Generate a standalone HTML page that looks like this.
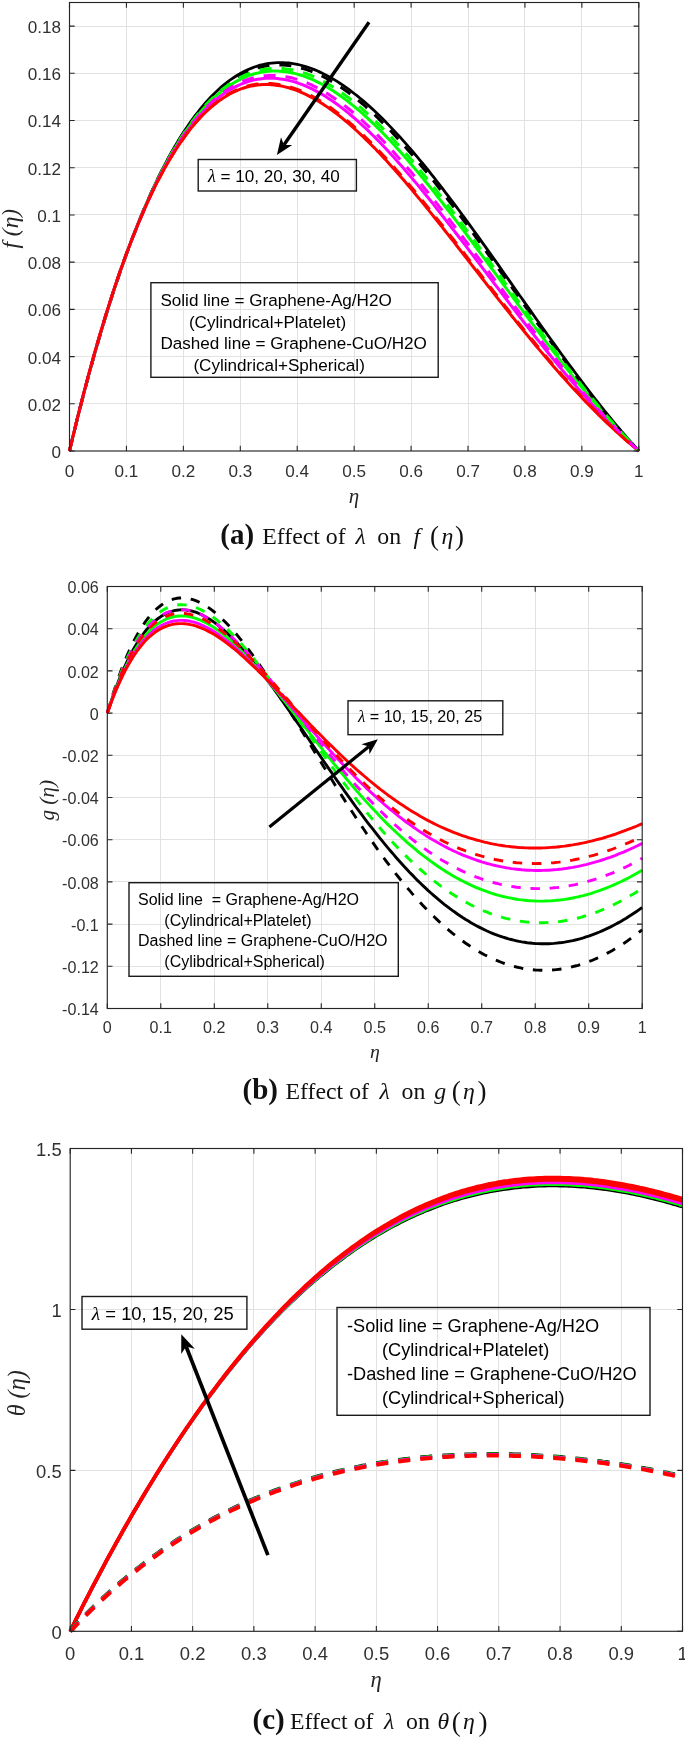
<!DOCTYPE html>
<html><head><meta charset="utf-8"><title>Effect of lambda</title>
<style>
html,body{margin:0;padding:0;background:#fff;}
body{width:685px;height:1739px;overflow:hidden;font-family:"Liberation Sans",sans-serif;}
svg{display:block;will-change:transform;}
</style></head><body>
<svg width="685" height="1739" viewBox="0 0 685 1739">
<rect width="685" height="1739" fill="#fff"/>
<path d="M126.43 2.50V451.00M183.36 2.50V451.00M240.29 2.50V451.00M297.22 2.50V451.00M354.15 2.50V451.00M411.08 2.50V451.00M468.01 2.50V451.00M524.94 2.50V451.00M581.87 2.50V451.00M69.50 403.79H638.80M69.50 356.58H638.80M69.50 309.37H638.80M69.50 262.16H638.80M69.50 214.95H638.80M69.50 167.74H638.80M69.50 120.53H638.80M69.50 73.32H638.80M69.50 26.11H638.80" stroke="#e2e2e2" stroke-width="1" fill="none" shape-rendering="crispEdges"/>
<path d="M69.5 451.0 L72.3 439.2 L75.2 427.5 L78.0 416.1 L80.9 404.9 L83.7 394.0 L86.6 383.2 L89.4 372.6 L92.3 362.3 L95.1 352.2 L98.0 342.3 L100.8 332.5 L103.7 323.0 L106.5 313.7 L109.4 304.6 L112.2 295.7 L115.0 287.0 L117.9 278.5 L120.7 270.1 L123.6 262.0 L126.4 254.1 L129.3 246.3 L132.1 238.7 L135.0 231.4 L137.8 224.2 L140.7 217.1 L143.5 210.3 L146.4 203.6 L149.2 197.2 L152.0 190.9 L154.9 184.7 L157.7 178.8 L160.6 173.0 L163.4 167.3 L166.3 161.9 L169.1 156.6 L172.0 151.5 L174.8 146.5 L177.7 141.7 L180.5 137.1 L183.4 132.6 L186.2 128.3 L189.1 124.1 L191.9 120.1 L194.7 116.2 L197.6 112.5 L200.4 108.9 L203.3 105.5 L206.1 102.2 L209.0 99.0 L211.8 96.0 L214.7 93.2 L217.5 90.5 L220.4 87.9 L223.2 85.4 L226.1 83.1 L228.9 80.9 L231.8 78.9 L234.6 77.0 L237.4 75.2 L240.3 73.5 L243.1 72.0 L246.0 70.5 L248.8 69.2 L251.7 68.1 L254.5 67.0 L257.4 66.1 L260.2 65.2 L263.1 64.5 L265.9 63.9 L268.8 63.4 L271.6 63.1 L274.4 62.8 L277.3 62.6 L280.1 62.6 L283.0 62.6 L285.8 62.8 L288.7 63.0 L291.5 63.4 L294.4 63.8 L297.2 64.4 L300.1 65.0 L302.9 65.8 L305.8 66.6 L308.6 67.5 L311.5 68.5 L314.3 69.6 L317.1 70.8 L320.0 72.1 L322.8 73.4 L325.7 74.9 L328.5 76.4 L331.4 78.0 L334.2 79.6 L337.1 81.4 L339.9 83.2 L342.8 85.1 L345.6 87.1 L348.5 89.1 L351.3 91.3 L354.1 93.5 L357.0 95.7 L359.8 98.0 L362.7 100.4 L365.5 102.9 L368.4 105.4 L371.2 107.9 L374.1 110.6 L376.9 113.3 L379.8 116.0 L382.6 118.8 L385.5 121.7 L388.3 124.6 L391.2 127.6 L394.0 130.6 L396.8 133.6 L399.7 136.7 L402.5 139.9 L405.4 143.1 L408.2 146.4 L411.1 149.6 L413.9 153.0 L416.8 156.4 L419.6 159.8 L422.5 163.2 L425.3 166.7 L428.2 170.2 L431.0 173.8 L433.9 177.4 L436.7 181.0 L439.5 184.7 L442.4 188.3 L445.2 192.1 L448.1 195.8 L450.9 199.6 L453.8 203.4 L456.6 207.2 L459.5 211.0 L462.3 214.9 L465.2 218.7 L468.0 222.6 L470.9 226.6 L473.7 230.5 L476.5 234.4 L479.4 238.4 L482.2 242.4 L485.1 246.4 L487.9 250.4 L490.8 254.4 L493.6 258.4 L496.5 262.4 L499.3 266.4 L502.2 270.5 L505.0 274.5 L507.9 278.6 L510.7 282.6 L513.6 286.7 L516.4 290.7 L519.2 294.8 L522.1 298.8 L524.9 302.9 L527.8 306.9 L530.6 310.9 L533.5 315.0 L536.3 319.0 L539.2 323.0 L542.0 327.0 L544.9 331.0 L547.7 335.0 L550.6 339.0 L553.4 342.9 L556.3 346.9 L559.1 350.8 L561.9 354.7 L564.8 358.6 L567.6 362.5 L570.5 366.4 L573.3 370.2 L576.2 374.0 L579.0 377.8 L581.9 381.6 L584.7 385.4 L587.6 389.1 L590.4 392.8 L593.3 396.5 L596.1 400.1 L598.9 403.7 L601.8 407.3 L604.6 410.9 L607.5 414.4 L610.3 417.9 L613.2 421.4 L616.0 424.8 L618.9 428.2 L621.7 431.6 L624.6 434.9 L627.4 438.2 L630.3 441.5 L633.1 444.7 L636.0 447.9 L638.8 451.0" stroke="#000" stroke-width="2.80" fill="none" stroke-linejoin="round"/>
<path d="M69.5 451.0 L72.3 439.1 L75.2 427.4 L78.0 415.9 L80.9 404.7 L83.7 393.7 L86.6 382.9 L89.4 372.3 L92.3 361.9 L95.1 351.8 L98.0 341.9 L100.8 332.1 L103.7 322.6 L106.5 313.3 L109.4 304.3 L112.2 295.4 L115.0 286.7 L117.9 278.2 L120.7 269.9 L123.6 261.9 L126.4 254.0 L129.3 246.3 L132.1 238.8 L135.0 231.5 L137.8 224.4 L140.7 217.4 L143.5 210.7 L146.4 204.1 L149.2 197.7 L152.0 191.5 L154.9 185.5 L157.7 179.7 L160.6 174.0 L163.4 168.5 L166.3 163.2 L169.1 158.0 L172.0 153.1 L174.8 148.2 L177.7 143.6 L180.5 139.1 L183.4 134.8 L186.2 130.6 L189.1 126.6 L191.9 122.7 L194.7 119.0 L197.6 115.5 L200.4 112.1 L203.3 108.8 L206.1 105.7 L209.0 102.7 L211.8 99.9 L214.7 97.2 L217.5 94.7 L220.4 92.3 L223.2 90.1 L226.1 87.9 L228.9 86.0 L231.8 84.1 L234.6 82.4 L237.4 80.8 L240.3 79.3 L243.1 78.0 L246.0 76.8 L248.8 75.7 L251.7 74.7 L254.5 73.8 L257.4 73.1 L260.2 72.5 L263.1 71.9 L265.9 71.5 L268.8 71.3 L271.6 71.1 L274.4 71.0 L277.3 71.0 L280.1 71.2 L283.0 71.4 L285.8 71.8 L288.7 72.2 L291.5 72.8 L294.4 73.4 L297.2 74.1 L300.1 75.0 L302.9 75.9 L305.8 76.9 L308.6 78.0 L311.5 79.2 L314.3 80.4 L317.1 81.8 L320.0 83.2 L322.8 84.7 L325.7 86.3 L328.5 88.0 L331.4 89.8 L334.2 91.6 L337.1 93.5 L339.9 95.5 L342.8 97.5 L345.6 99.6 L348.5 101.8 L351.3 104.1 L354.1 106.4 L357.0 108.8 L359.8 111.2 L362.7 113.7 L365.5 116.3 L368.4 118.9 L371.2 121.6 L374.1 124.3 L376.9 127.1 L379.8 129.9 L382.6 132.8 L385.5 135.7 L388.3 138.7 L391.2 141.7 L394.0 144.8 L396.8 147.9 L399.7 151.1 L402.5 154.3 L405.4 157.5 L408.2 160.8 L411.1 164.2 L413.9 167.5 L416.8 170.9 L419.6 174.3 L422.5 177.8 L425.3 181.3 L428.2 184.8 L431.0 188.3 L433.9 191.9 L436.7 195.5 L439.5 199.1 L442.4 202.8 L445.2 206.5 L448.1 210.2 L450.9 213.9 L453.8 217.6 L456.6 221.4 L459.5 225.1 L462.3 228.9 L465.2 232.7 L468.0 236.5 L470.9 240.3 L473.7 244.2 L476.5 248.0 L479.4 251.9 L482.2 255.7 L485.1 259.6 L487.9 263.5 L490.8 267.3 L493.6 271.2 L496.5 275.1 L499.3 279.0 L502.2 282.9 L505.0 286.7 L507.9 290.6 L510.7 294.5 L513.6 298.4 L516.4 302.2 L519.2 306.1 L522.1 309.9 L524.9 313.8 L527.8 317.6 L530.6 321.4 L533.5 325.2 L536.3 329.0 L539.2 332.8 L542.0 336.6 L544.9 340.4 L547.7 344.1 L550.6 347.8 L553.4 351.6 L556.3 355.3 L559.1 358.9 L561.9 362.6 L564.8 366.2 L567.6 369.8 L570.5 373.4 L573.3 377.0 L576.2 380.5 L579.0 384.1 L581.9 387.5 L584.7 391.0 L587.6 394.5 L590.4 397.9 L593.3 401.3 L596.1 404.6 L598.9 407.9 L601.8 411.2 L604.6 414.5 L607.5 417.7 L610.3 420.9 L613.2 424.1 L616.0 427.2 L618.9 430.3 L621.7 433.4 L624.6 436.4 L627.4 439.4 L630.3 442.4 L633.1 445.3 L636.0 448.2 L638.8 451.0" stroke="#00ff00" stroke-width="3.00" fill="none" stroke-linejoin="round"/>
<path d="M69.5 451.0 L72.3 439.0 L75.2 427.3 L78.0 415.7 L80.9 404.5 L83.7 393.4 L86.6 382.6 L89.4 372.0 L92.3 361.6 L95.1 351.4 L98.0 341.5 L100.8 331.8 L103.7 322.3 L106.5 313.0 L109.4 303.9 L112.2 295.1 L115.0 286.4 L117.9 278.0 L120.7 269.7 L123.6 261.7 L126.4 253.9 L129.3 246.2 L132.1 238.8 L135.0 231.6 L137.8 224.5 L140.7 217.7 L143.5 211.0 L146.4 204.5 L149.2 198.3 L152.0 192.2 L154.9 186.2 L157.7 180.5 L160.6 174.9 L163.4 169.6 L166.3 164.4 L169.1 159.3 L172.0 154.5 L174.8 149.8 L177.7 145.2 L180.5 140.9 L183.4 136.7 L186.2 132.7 L189.1 128.8 L191.9 125.1 L194.7 121.5 L197.6 118.1 L200.4 114.9 L203.3 111.8 L206.1 108.8 L209.0 106.0 L211.8 103.4 L214.7 100.9 L217.5 98.5 L220.4 96.3 L223.2 94.2 L226.1 92.3 L228.9 90.4 L231.8 88.8 L234.6 87.2 L237.4 85.8 L240.3 84.5 L243.1 83.3 L246.0 82.3 L248.8 81.4 L251.7 80.6 L254.5 79.9 L257.4 79.3 L260.2 78.9 L263.1 78.6 L265.9 78.3 L268.8 78.2 L271.6 78.2 L274.4 78.3 L277.3 78.5 L280.1 78.9 L283.0 79.3 L285.8 79.8 L288.7 80.4 L291.5 81.1 L294.4 81.9 L297.2 82.8 L300.1 83.8 L302.9 84.9 L305.8 86.1 L308.6 87.3 L311.5 88.7 L314.3 90.1 L317.1 91.6 L320.0 93.2 L322.8 94.8 L325.7 96.6 L328.5 98.4 L331.4 100.3 L334.2 102.3 L337.1 104.3 L339.9 106.4 L342.8 108.6 L345.6 110.8 L348.5 113.1 L351.3 115.5 L354.1 117.9 L357.0 120.4 L359.8 123.0 L362.7 125.6 L365.5 128.2 L368.4 130.9 L371.2 133.7 L374.1 136.5 L376.9 139.4 L379.8 142.3 L382.6 145.2 L385.5 148.2 L388.3 151.3 L391.2 154.4 L394.0 157.5 L396.8 160.7 L399.7 163.9 L402.5 167.1 L405.4 170.4 L408.2 173.7 L411.1 177.1 L413.9 180.5 L416.8 183.9 L419.6 187.3 L422.5 190.8 L425.3 194.3 L428.2 197.8 L431.0 201.3 L433.9 204.9 L436.7 208.5 L439.5 212.1 L442.4 215.7 L445.2 219.3 L448.1 223.0 L450.9 226.7 L453.8 230.3 L456.6 234.0 L459.5 237.7 L462.3 241.4 L465.2 245.2 L468.0 248.9 L470.9 252.6 L473.7 256.4 L476.5 260.1 L479.4 263.9 L482.2 267.6 L485.1 271.4 L487.9 275.1 L490.8 278.9 L493.6 282.7 L496.5 286.4 L499.3 290.1 L502.2 293.9 L505.0 297.6 L507.9 301.3 L510.7 305.1 L513.6 308.8 L516.4 312.5 L519.2 316.2 L522.1 319.8 L524.9 323.5 L527.8 327.1 L530.6 330.8 L533.5 334.4 L536.3 338.0 L539.2 341.6 L542.0 345.2 L544.9 348.7 L547.7 352.2 L550.6 355.8 L553.4 359.3 L556.3 362.7 L559.1 366.2 L561.9 369.6 L564.8 373.0 L567.6 376.4 L570.5 379.7 L573.3 383.0 L576.2 386.3 L579.0 389.6 L581.9 392.8 L584.7 396.1 L587.6 399.2 L590.4 402.4 L593.3 405.5 L596.1 408.6 L598.9 411.7 L601.8 414.7 L604.6 417.7 L607.5 420.7 L610.3 423.6 L613.2 426.5 L616.0 429.4 L618.9 432.2 L621.7 435.0 L624.6 437.7 L627.4 440.5 L630.3 443.2 L633.1 445.8 L636.0 448.4 L638.8 451.0" stroke="#ff00ff" stroke-width="3.00" fill="none" stroke-linejoin="round"/>
<path d="M69.5 451.0 L72.3 439.0 L75.2 427.1 L78.0 415.6 L80.9 404.3 L83.7 393.2 L86.6 382.3 L89.4 371.7 L92.3 361.3 L95.1 351.1 L98.0 341.2 L100.8 331.5 L103.7 322.0 L106.5 312.7 L109.4 303.6 L112.2 294.8 L115.0 286.2 L117.9 277.8 L120.7 269.6 L123.6 261.6 L126.4 253.8 L129.3 246.2 L132.1 238.8 L135.0 231.7 L137.8 224.7 L140.7 217.9 L143.5 211.3 L146.4 204.9 L149.2 198.7 L152.0 192.7 L154.9 186.9 L157.7 181.2 L160.6 175.8 L163.4 170.5 L166.3 165.4 L169.1 160.5 L172.0 155.7 L174.8 151.2 L177.7 146.8 L180.5 142.5 L183.4 138.5 L186.2 134.6 L189.1 130.8 L191.9 127.2 L194.7 123.8 L197.6 120.6 L200.4 117.5 L203.3 114.5 L206.1 111.7 L209.0 109.1 L211.8 106.5 L214.7 104.2 L217.5 102.0 L220.4 99.9 L223.2 98.0 L226.1 96.2 L228.9 94.5 L231.8 93.0 L234.6 91.6 L237.4 90.3 L240.3 89.2 L243.1 88.2 L246.0 87.3 L248.8 86.6 L251.7 85.9 L254.5 85.4 L257.4 85.0 L260.2 84.7 L263.1 84.6 L265.9 84.5 L268.8 84.6 L271.6 84.7 L274.4 85.0 L277.3 85.4 L280.1 85.8 L283.0 86.4 L285.8 87.1 L288.7 87.8 L291.5 88.7 L294.4 89.7 L297.2 90.7 L300.1 91.9 L302.9 93.1 L305.8 94.4 L308.6 95.8 L311.5 97.3 L314.3 98.9 L317.1 100.5 L320.0 102.2 L322.8 104.0 L325.7 105.9 L328.5 107.9 L331.4 109.9 L334.2 112.0 L337.1 114.1 L339.9 116.3 L342.8 118.6 L345.6 121.0 L348.5 123.4 L351.3 125.9 L354.1 128.4 L357.0 131.0 L359.8 133.6 L362.7 136.3 L365.5 139.1 L368.4 141.9 L371.2 144.7 L374.1 147.6 L376.9 150.6 L379.8 153.5 L382.6 156.6 L385.5 159.6 L388.3 162.7 L391.2 165.9 L394.0 169.1 L396.8 172.3 L399.7 175.5 L402.5 178.8 L405.4 182.1 L408.2 185.5 L411.1 188.8 L413.9 192.2 L416.8 195.7 L419.6 199.1 L422.5 202.6 L425.3 206.1 L428.2 209.6 L431.0 213.1 L433.9 216.7 L436.7 220.2 L439.5 223.8 L442.4 227.4 L445.2 231.0 L448.1 234.6 L450.9 238.3 L453.8 241.9 L456.6 245.5 L459.5 249.2 L462.3 252.8 L465.2 256.5 L468.0 260.2 L470.9 263.8 L473.7 267.5 L476.5 271.1 L479.4 274.8 L482.2 278.5 L485.1 282.1 L487.9 285.8 L490.8 289.4 L493.6 293.1 L496.5 296.7 L499.3 300.3 L502.2 303.9 L505.0 307.5 L507.9 311.1 L510.7 314.7 L513.6 318.2 L516.4 321.8 L519.2 325.3 L522.1 328.8 L524.9 332.3 L527.8 335.8 L530.6 339.3 L533.5 342.7 L536.3 346.2 L539.2 349.6 L542.0 352.9 L544.9 356.3 L547.7 359.6 L550.6 363.0 L553.4 366.2 L556.3 369.5 L559.1 372.7 L561.9 376.0 L564.8 379.1 L567.6 382.3 L570.5 385.4 L573.3 388.5 L576.2 391.6 L579.0 394.6 L581.9 397.7 L584.7 400.6 L587.6 403.6 L590.4 406.5 L593.3 409.4 L596.1 412.2 L598.9 415.1 L601.8 417.9 L604.6 420.6 L607.5 423.3 L610.3 426.0 L613.2 428.7 L616.0 431.3 L618.9 433.9 L621.7 436.4 L624.6 439.0 L627.4 441.4 L630.3 443.9 L633.1 446.3 L636.0 448.7 L638.8 451.0" stroke="#ff0000" stroke-width="3.00" fill="none" stroke-linejoin="round"/>
<path d="M69.5 451.0 L72.3 439.1 L75.2 427.5 L78.0 416.1 L80.9 404.9 L83.7 393.9 L86.6 383.1 L89.4 372.5 L92.3 362.2 L95.1 352.1 L98.0 342.2 L100.8 332.4 L103.7 322.9 L106.5 313.6 L109.4 304.5 L112.2 295.6 L115.0 286.9 L117.9 278.4 L120.7 270.1 L123.6 262.0 L126.4 254.0 L129.3 246.3 L132.1 238.7 L135.0 231.4 L137.8 224.2 L140.7 217.2 L143.5 210.4 L146.4 203.8 L149.2 197.3 L152.0 191.0 L154.9 184.9 L157.7 179.0 L160.6 173.2 L163.4 167.7 L166.3 162.2 L169.1 157.0 L172.0 151.9 L174.8 147.0 L177.7 142.2 L180.5 137.6 L183.4 133.2 L186.2 128.9 L189.1 124.7 L191.9 120.8 L194.7 116.9 L197.6 113.3 L200.4 109.7 L203.3 106.4 L206.1 103.1 L209.0 100.0 L211.8 97.1 L214.7 94.3 L217.5 91.6 L220.4 89.1 L223.2 86.7 L226.1 84.4 L228.9 82.3 L231.8 80.3 L234.6 78.4 L237.4 76.7 L240.3 75.1 L243.1 73.6 L246.0 72.2 L248.8 71.0 L251.7 69.9 L254.5 68.8 L257.4 68.0 L260.2 67.2 L263.1 66.5 L265.9 66.0 L268.8 65.6 L271.6 65.2 L274.4 65.0 L277.3 64.9 L280.1 64.9 L283.0 65.0 L285.8 65.2 L288.7 65.5 L291.5 65.9 L294.4 66.4 L297.2 67.0 L300.1 67.7 L302.9 68.5 L305.8 69.4 L308.6 70.3 L311.5 71.4 L314.3 72.5 L317.1 73.8 L320.0 75.1 L322.8 76.5 L325.7 78.0 L328.5 79.5 L331.4 81.2 L334.2 82.9 L337.1 84.7 L339.9 86.5 L342.8 88.5 L345.6 90.5 L348.5 92.6 L351.3 94.7 L354.1 96.9 L357.0 99.2 L359.8 101.6 L362.7 104.0 L365.5 106.5 L368.4 109.0 L371.2 111.6 L374.1 114.3 L376.9 117.0 L379.8 119.8 L382.6 122.6 L385.5 125.5 L388.3 128.4 L391.2 131.4 L394.0 134.4 L396.8 137.5 L399.7 140.6 L402.5 143.8 L405.4 147.0 L408.2 150.3 L411.1 153.6 L413.9 156.9 L416.8 160.3 L419.6 163.7 L422.5 167.2 L425.3 170.6 L428.2 174.2 L431.0 177.7 L433.9 181.3 L436.7 184.9 L439.5 188.6 L442.4 192.3 L445.2 196.0 L448.1 199.7 L450.9 203.4 L453.8 207.2 L456.6 211.0 L459.5 214.8 L462.3 218.7 L465.2 222.5 L468.0 226.4 L470.9 230.3 L473.7 234.2 L476.5 238.1 L479.4 242.0 L482.2 246.0 L485.1 249.9 L487.9 253.9 L490.8 257.9 L493.6 261.9 L496.5 265.8 L499.3 269.8 L502.2 273.8 L505.0 277.8 L507.9 281.8 L510.7 285.8 L513.6 289.8 L516.4 293.8 L519.2 297.8 L522.1 301.8 L524.9 305.8 L527.8 309.8 L530.6 313.8 L533.5 317.8 L536.3 321.7 L539.2 325.7 L542.0 329.6 L544.9 333.5 L547.7 337.5 L550.6 341.4 L553.4 345.3 L556.3 349.1 L559.1 353.0 L561.9 356.9 L564.8 360.7 L567.6 364.5 L570.5 368.3 L573.3 372.0 L576.2 375.8 L579.0 379.5 L581.9 383.2 L584.7 386.9 L587.6 390.5 L590.4 394.2 L593.3 397.8 L596.1 401.3 L598.9 404.9 L601.8 408.4 L604.6 411.9 L607.5 415.3 L610.3 418.7 L613.2 422.1 L616.0 425.5 L618.9 428.8 L621.7 432.1 L624.6 435.3 L627.4 438.5 L630.3 441.7 L633.1 444.8 L636.0 447.9 L638.8 451.0" stroke="#000" stroke-width="3.00" fill="none" stroke-linejoin="round" stroke-dasharray="12 10"/>
<path d="M69.5 451.0 L72.3 439.1 L75.2 427.4 L78.0 416.0 L80.9 404.8 L83.7 393.8 L86.6 383.0 L89.4 372.4 L92.3 362.1 L95.1 351.9 L98.0 342.0 L100.8 332.3 L103.7 322.8 L106.5 313.5 L109.4 304.4 L112.2 295.5 L115.0 286.8 L117.9 278.3 L120.7 270.0 L123.6 261.9 L126.4 254.0 L129.3 246.3 L132.1 238.8 L135.0 231.4 L137.8 224.3 L140.7 217.3 L143.5 210.6 L146.4 204.0 L149.2 197.6 L152.0 191.3 L154.9 185.3 L157.7 179.4 L160.6 173.7 L163.4 168.1 L166.3 162.8 L169.1 157.6 L172.0 152.5 L174.8 147.7 L177.7 143.0 L180.5 138.4 L183.4 134.1 L186.2 129.8 L189.1 125.8 L191.9 121.8 L194.7 118.1 L197.6 114.5 L200.4 111.0 L203.3 107.7 L206.1 104.6 L209.0 101.5 L211.8 98.7 L214.7 95.9 L217.5 93.3 L220.4 90.9 L223.2 88.6 L226.1 86.4 L228.9 84.3 L231.8 82.4 L234.6 80.6 L237.4 79.0 L240.3 77.4 L243.1 76.0 L246.0 74.7 L248.8 73.6 L251.7 72.5 L254.5 71.6 L257.4 70.8 L260.2 70.1 L263.1 69.5 L265.9 69.1 L268.8 68.7 L271.6 68.5 L274.4 68.3 L277.3 68.3 L280.1 68.4 L283.0 68.6 L285.8 68.9 L288.7 69.2 L291.5 69.7 L294.4 70.3 L297.2 71.0 L300.1 71.7 L302.9 72.6 L305.8 73.5 L308.6 74.6 L311.5 75.7 L314.3 76.9 L317.1 78.2 L320.0 79.6 L322.8 81.1 L325.7 82.6 L328.5 84.2 L331.4 85.9 L334.2 87.7 L337.1 89.6 L339.9 91.5 L342.8 93.5 L345.6 95.6 L348.5 97.7 L351.3 99.9 L354.1 102.2 L357.0 104.5 L359.8 106.9 L362.7 109.4 L365.5 111.9 L368.4 114.5 L371.2 117.1 L374.1 119.8 L376.9 122.6 L379.8 125.4 L382.6 128.3 L385.5 131.2 L388.3 134.1 L391.2 137.1 L394.0 140.2 L396.8 143.3 L399.7 146.4 L402.5 149.6 L405.4 152.9 L408.2 156.1 L411.1 159.4 L413.9 162.8 L416.8 166.2 L419.6 169.6 L422.5 173.1 L425.3 176.6 L428.2 180.1 L431.0 183.6 L433.9 187.2 L436.7 190.8 L439.5 194.4 L442.4 198.1 L445.2 201.8 L448.1 205.5 L450.9 209.2 L453.8 213.0 L456.6 216.8 L459.5 220.5 L462.3 224.4 L465.2 228.2 L468.0 232.0 L470.9 235.9 L473.7 239.7 L476.5 243.6 L479.4 247.5 L482.2 251.4 L485.1 255.3 L487.9 259.2 L490.8 263.1 L493.6 267.1 L496.5 271.0 L499.3 274.9 L502.2 278.8 L505.0 282.8 L507.9 286.7 L510.7 290.6 L513.6 294.6 L516.4 298.5 L519.2 302.4 L522.1 306.3 L524.9 310.2 L527.8 314.1 L530.6 318.0 L533.5 321.9 L536.3 325.8 L539.2 329.7 L542.0 333.5 L544.9 337.3 L547.7 341.2 L550.6 345.0 L553.4 348.8 L556.3 352.5 L559.1 356.3 L561.9 360.0 L564.8 363.8 L567.6 367.5 L570.5 371.1 L573.3 374.8 L576.2 378.4 L579.0 382.0 L581.9 385.6 L584.7 389.2 L587.6 392.7 L590.4 396.2 L593.3 399.7 L596.1 403.2 L598.9 406.6 L601.8 410.0 L604.6 413.3 L607.5 416.7 L610.3 420.0 L613.2 423.2 L616.0 426.5 L618.9 429.6 L621.7 432.8 L624.6 435.9 L627.4 439.0 L630.3 442.1 L633.1 445.1 L636.0 448.1 L638.8 451.0" stroke="#00ff00" stroke-width="3.00" fill="none" stroke-linejoin="round" stroke-dasharray="12 10"/>
<path d="M69.5 451.0 L72.3 439.0 L75.2 427.3 L78.0 415.8 L80.9 404.5 L83.7 393.5 L86.6 382.7 L89.4 372.1 L92.3 361.7 L95.1 351.6 L98.0 341.6 L100.8 331.9 L103.7 322.4 L106.5 313.1 L109.4 304.1 L112.2 295.2 L115.0 286.5 L117.9 278.1 L120.7 269.8 L123.6 261.8 L126.4 253.9 L129.3 246.3 L132.1 238.8 L135.0 231.5 L137.8 224.5 L140.7 217.6 L143.5 210.9 L146.4 204.4 L149.2 198.1 L152.0 191.9 L154.9 186.0 L157.7 180.2 L160.6 174.6 L163.4 169.1 L166.3 163.9 L169.1 158.8 L172.0 153.9 L174.8 149.2 L177.7 144.6 L180.5 140.2 L183.4 135.9 L186.2 131.8 L189.1 127.9 L191.9 124.1 L194.7 120.5 L197.6 117.1 L200.4 113.8 L203.3 110.6 L206.1 107.6 L209.0 104.7 L211.8 102.0 L214.7 99.5 L217.5 97.0 L220.4 94.7 L223.2 92.6 L226.1 90.6 L228.9 88.7 L231.8 86.9 L234.6 85.3 L237.4 83.8 L240.3 82.5 L243.1 81.2 L246.0 80.1 L248.8 79.1 L251.7 78.3 L254.5 77.5 L257.4 76.9 L260.2 76.4 L263.1 75.9 L265.9 75.7 L268.8 75.5 L271.6 75.4 L274.4 75.4 L277.3 75.6 L280.1 75.8 L283.0 76.2 L285.8 76.6 L288.7 77.2 L291.5 77.8 L294.4 78.6 L297.2 79.4 L300.1 80.3 L302.9 81.3 L305.8 82.4 L308.6 83.6 L311.5 84.9 L314.3 86.3 L317.1 87.7 L320.0 89.3 L322.8 90.9 L325.7 92.6 L328.5 94.3 L331.4 96.2 L334.2 98.1 L337.1 100.0 L339.9 102.1 L342.8 104.2 L345.6 106.4 L348.5 108.7 L351.3 111.0 L354.1 113.4 L357.0 115.8 L359.8 118.3 L362.7 120.9 L365.5 123.5 L368.4 126.2 L371.2 128.9 L374.1 131.7 L376.9 134.5 L379.8 137.4 L382.6 140.3 L385.5 143.3 L388.3 146.3 L391.2 149.4 L394.0 152.5 L396.8 155.7 L399.7 158.9 L402.5 162.1 L405.4 165.4 L408.2 168.7 L411.1 172.0 L413.9 175.4 L416.8 178.8 L419.6 182.2 L422.5 185.7 L425.3 189.2 L428.2 192.7 L431.0 196.2 L433.9 199.8 L436.7 203.4 L439.5 207.0 L442.4 210.6 L445.2 214.3 L448.1 217.9 L450.9 221.6 L453.8 225.3 L456.6 229.0 L459.5 232.8 L462.3 236.5 L465.2 240.3 L468.0 244.0 L470.9 247.8 L473.7 251.6 L476.5 255.4 L479.4 259.2 L482.2 262.9 L485.1 266.7 L487.9 270.5 L490.8 274.3 L493.6 278.1 L496.5 281.9 L499.3 285.7 L502.2 289.5 L505.0 293.3 L507.9 297.1 L510.7 300.9 L513.6 304.7 L516.4 308.4 L519.2 312.2 L522.1 315.9 L524.9 319.7 L527.8 323.4 L530.6 327.1 L533.5 330.8 L536.3 334.5 L539.2 338.1 L542.0 341.8 L544.9 345.4 L547.7 349.0 L550.6 352.6 L553.4 356.2 L556.3 359.8 L559.1 363.3 L561.9 366.8 L564.8 370.3 L567.6 373.8 L570.5 377.2 L573.3 380.7 L576.2 384.0 L579.0 387.4 L581.9 390.8 L584.7 394.1 L587.6 397.4 L590.4 400.6 L593.3 403.8 L596.1 407.0 L598.9 410.2 L601.8 413.3 L604.6 416.4 L607.5 419.5 L610.3 422.5 L613.2 425.6 L616.0 428.5 L618.9 431.5 L621.7 434.4 L624.6 437.2 L627.4 440.1 L630.3 442.8 L633.1 445.6 L636.0 448.3 L638.8 451.0" stroke="#ff00ff" stroke-width="3.00" fill="none" stroke-linejoin="round" stroke-dasharray="12 10"/>
<path d="M69.5 451.0 L72.3 439.0 L75.2 427.2 L78.0 415.6 L80.9 404.3 L83.7 393.2 L86.6 382.3 L89.4 371.7 L92.3 361.3 L95.1 351.2 L98.0 341.2 L100.8 331.5 L103.7 322.0 L106.5 312.8 L109.4 303.7 L112.2 294.9 L115.0 286.2 L117.9 277.8 L120.7 269.6 L123.6 261.6 L126.4 253.8 L129.3 246.2 L132.1 238.8 L135.0 231.7 L137.8 224.7 L140.7 217.9 L143.5 211.3 L146.4 204.9 L149.2 198.7 L152.0 192.6 L154.9 186.8 L157.7 181.1 L160.6 175.6 L163.4 170.4 L166.3 165.2 L169.1 160.3 L172.0 155.5 L174.8 150.9 L177.7 146.5 L180.5 142.3 L183.4 138.2 L186.2 134.2 L189.1 130.5 L191.9 126.9 L194.7 123.4 L197.6 120.2 L200.4 117.0 L203.3 114.1 L206.1 111.2 L209.0 108.6 L211.8 106.0 L214.7 103.6 L217.5 101.4 L220.4 99.3 L223.2 97.3 L226.1 95.5 L228.9 93.8 L231.8 92.3 L234.6 90.9 L237.4 89.6 L240.3 88.4 L243.1 87.4 L246.0 86.5 L248.8 85.7 L251.7 85.0 L254.5 84.5 L257.4 84.1 L260.2 83.8 L263.1 83.6 L265.9 83.5 L268.8 83.5 L271.6 83.6 L274.4 83.9 L277.3 84.2 L280.1 84.7 L283.0 85.2 L285.8 85.9 L288.7 86.6 L291.5 87.4 L294.4 88.4 L297.2 89.4 L300.1 90.5 L302.9 91.7 L305.8 93.0 L308.6 94.4 L311.5 95.9 L314.3 97.4 L317.1 99.0 L320.0 100.7 L322.8 102.5 L325.7 104.4 L328.5 106.3 L331.4 108.3 L334.2 110.4 L337.1 112.5 L339.9 114.7 L342.8 117.0 L345.6 119.3 L348.5 121.7 L351.3 124.1 L354.1 126.7 L357.0 129.2 L359.8 131.9 L362.7 134.5 L365.5 137.3 L368.4 140.0 L371.2 142.9 L374.1 145.8 L376.9 148.7 L379.8 151.7 L382.6 154.7 L385.5 157.7 L388.3 160.8 L391.2 164.0 L394.0 167.1 L396.8 170.4 L399.7 173.6 L402.5 176.9 L405.4 180.2 L408.2 183.5 L411.1 186.9 L413.9 190.3 L416.8 193.7 L419.6 197.2 L422.5 200.6 L425.3 204.1 L428.2 207.6 L431.0 211.2 L433.9 214.7 L436.7 218.3 L439.5 221.9 L442.4 225.5 L445.2 229.1 L448.1 232.7 L450.9 236.3 L453.8 240.0 L456.6 243.6 L459.5 247.3 L462.3 250.9 L465.2 254.6 L468.0 258.3 L470.9 262.0 L473.7 265.6 L476.5 269.3 L479.4 273.0 L482.2 276.7 L485.1 280.3 L487.9 284.0 L490.8 287.7 L493.6 291.3 L496.5 295.0 L499.3 298.6 L502.2 302.2 L505.0 305.9 L507.9 309.5 L510.7 313.1 L513.6 316.7 L516.4 320.2 L519.2 323.8 L522.1 327.3 L524.9 330.9 L527.8 334.4 L530.6 337.9 L533.5 341.3 L536.3 344.8 L539.2 348.2 L542.0 351.6 L544.9 355.0 L547.7 358.4 L550.6 361.8 L553.4 365.1 L556.3 368.4 L559.1 371.6 L561.9 374.9 L564.8 378.1 L567.6 381.3 L570.5 384.5 L573.3 387.6 L576.2 390.7 L579.0 393.8 L581.9 396.9 L584.7 399.9 L587.6 402.9 L590.4 405.8 L593.3 408.7 L596.1 411.6 L598.9 414.5 L601.8 417.3 L604.6 420.1 L607.5 422.9 L610.3 425.6 L613.2 428.3 L616.0 431.0 L618.9 433.6 L621.7 436.2 L624.6 438.8 L627.4 441.3 L630.3 443.8 L633.1 446.2 L636.0 448.6 L638.8 451.0" stroke="#ff0000" stroke-width="3.00" fill="none" stroke-linejoin="round" stroke-dasharray="12 10"/>
<path d="M369.00 22.30L283.88 145.04" stroke="#000" stroke-width="3.40" fill="none"/>
<path d="M276.90 155.10L281.00 137.26L283.88 145.04L292.18 145.01Z" fill="#000"/>
<rect x="198.20" y="159.50" width="158.20" height="31.50" fill="none" stroke="#1a1a1a" stroke-width="1.4"/>
<g font-family="'Liberation Sans',sans-serif" font-size="17.10" fill="#000">
</g>
<text x="208.00" y="182.30" font-family="'Liberation Sans',sans-serif" font-size="17.10" fill="#000" xml:space="preserve"><tspan font-family="'Liberation Serif',serif" font-style="italic" font-size="17.96">λ</tspan> = 10, 20, 30, 40</text>
<rect x="150.90" y="282.70" width="287.30" height="94.60" fill="none" stroke="#1a1a1a" stroke-width="1.4"/>
<g font-family="'Liberation Sans',sans-serif" font-size="17.10" fill="#000">
<text x="160.40" y="306.20" xml:space="preserve">Solid line = Graphene-Ag/H2O</text>
<text x="188.90" y="328.00" xml:space="preserve">(Cylindrical+Platelet)</text>
<text x="160.40" y="349.40" xml:space="preserve">Dashed line = Graphene-CuO/H2O</text>
<text x="193.40" y="371.40" xml:space="preserve">(Cylindrical+Spherical)</text>
</g>
<path d="M69.50 451.00v-5.20M69.50 2.50v5.20M126.43 451.00v-5.20M126.43 2.50v5.20M183.36 451.00v-5.20M183.36 2.50v5.20M240.29 451.00v-5.20M240.29 2.50v5.20M297.22 451.00v-5.20M297.22 2.50v5.20M354.15 451.00v-5.20M354.15 2.50v5.20M411.08 451.00v-5.20M411.08 2.50v5.20M468.01 451.00v-5.20M468.01 2.50v5.20M524.94 451.00v-5.20M524.94 2.50v5.20M581.87 451.00v-5.20M581.87 2.50v5.20M638.80 451.00v-5.20M638.80 2.50v5.20M69.50 451.00h5.20M638.80 451.00h-5.20M69.50 403.79h5.20M638.80 403.79h-5.20M69.50 356.58h5.20M638.80 356.58h-5.20M69.50 309.37h5.20M638.80 309.37h-5.20M69.50 262.16h5.20M638.80 262.16h-5.20M69.50 214.95h5.20M638.80 214.95h-5.20M69.50 167.74h5.20M638.80 167.74h-5.20M69.50 120.53h5.20M638.80 120.53h-5.20M69.50 73.32h5.20M638.80 73.32h-5.20M69.50 26.11h5.20M638.80 26.11h-5.20" stroke="#262626" stroke-width="1.1" fill="none"/>
<rect x="69.50" y="2.50" width="569.30" height="448.50" fill="none" stroke="#262626" stroke-width="1.15"/>
<g font-family="'Liberation Sans',sans-serif" font-size="17.10" fill="#303030">
<text x="69.50" y="477.16" text-anchor="middle">0</text>
<text x="126.43" y="477.16" text-anchor="middle">0.1</text>
<text x="183.36" y="477.16" text-anchor="middle">0.2</text>
<text x="240.29" y="477.16" text-anchor="middle">0.3</text>
<text x="297.22" y="477.16" text-anchor="middle">0.4</text>
<text x="354.15" y="477.16" text-anchor="middle">0.5</text>
<text x="411.08" y="477.16" text-anchor="middle">0.6</text>
<text x="468.01" y="477.16" text-anchor="middle">0.7</text>
<text x="524.94" y="477.16" text-anchor="middle">0.8</text>
<text x="581.87" y="477.16" text-anchor="middle">0.9</text>
<text x="638.80" y="477.16" text-anchor="middle">1</text>
<text x="61.00" y="457.96" text-anchor="end">0</text>
<text x="61.00" y="410.75" text-anchor="end">0.02</text>
<text x="61.00" y="363.53" text-anchor="end">0.04</text>
<text x="61.00" y="316.32" text-anchor="end">0.06</text>
<text x="61.00" y="269.11" text-anchor="end">0.08</text>
<text x="61.00" y="221.90" text-anchor="end">0.1</text>
<text x="61.00" y="174.69" text-anchor="end">0.12</text>
<text x="61.00" y="127.48" text-anchor="end">0.14</text>
<text x="61.00" y="80.27" text-anchor="end">0.16</text>
<text x="61.00" y="33.06" text-anchor="end">0.18</text>
</g>
<path d="M160.79 586.50V1008.50M214.28 586.50V1008.50M267.77 586.50V1008.50M321.26 586.50V1008.50M374.75 586.50V1008.50M428.24 586.50V1008.50M481.73 586.50V1008.50M535.22 586.50V1008.50M588.71 586.50V1008.50M107.30 966.30H642.20M107.30 924.10H642.20M107.30 881.90H642.20M107.30 839.70H642.20M107.30 797.50H642.20M107.30 755.30H642.20M107.30 713.10H642.20M107.30 670.90H642.20M107.30 628.70H642.20" stroke="#e2e2e2" stroke-width="1" fill="none" shape-rendering="crispEdges"/>
<path d="M107.3 713.1 L110.0 704.9 L112.6 697.0 L115.3 689.6 L118.0 682.6 L120.7 675.9 L123.3 669.7 L126.0 663.8 L128.7 658.2 L131.4 653.0 L134.0 648.2 L136.7 643.7 L139.4 639.5 L142.1 635.6 L144.7 632.0 L147.4 628.7 L150.1 625.8 L152.8 623.1 L155.4 620.6 L158.1 618.5 L160.8 616.6 L163.5 614.9 L166.1 613.5 L168.8 612.3 L171.5 611.4 L174.2 610.7 L176.8 610.2 L179.5 609.9 L182.2 609.8 L184.9 609.9 L187.5 610.2 L190.2 610.7 L192.9 611.4 L195.6 612.2 L198.2 613.2 L200.9 614.4 L203.6 615.7 L206.3 617.2 L208.9 618.8 L211.6 620.5 L214.3 622.4 L217.0 624.4 L219.6 626.5 L222.3 628.8 L225.0 631.1 L227.7 633.6 L230.3 636.2 L233.0 638.9 L235.7 641.6 L238.4 644.5 L241.0 647.4 L243.7 650.5 L246.4 653.6 L249.0 656.7 L251.7 660.0 L254.4 663.3 L257.1 666.7 L259.7 670.1 L262.4 673.6 L265.1 677.1 L267.8 680.7 L270.4 684.3 L273.1 688.0 L275.8 691.7 L278.5 695.4 L281.1 699.2 L283.8 703.0 L286.5 706.8 L289.2 710.7 L291.8 714.5 L294.5 718.4 L297.2 722.3 L299.9 726.2 L302.5 730.1 L305.2 734.1 L307.9 738.0 L310.6 741.9 L313.2 745.8 L315.9 749.8 L318.6 753.7 L321.3 757.6 L323.9 761.5 L326.6 765.4 L329.3 769.3 L332.0 773.1 L334.6 777.0 L337.3 780.8 L340.0 784.6 L342.7 788.4 L345.3 792.2 L348.0 795.9 L350.7 799.6 L353.4 803.3 L356.0 807.0 L358.7 810.6 L361.4 814.2 L364.1 817.8 L366.7 821.3 L369.4 824.8 L372.1 828.2 L374.8 831.7 L377.4 835.0 L380.1 838.4 L382.8 841.7 L385.4 844.9 L388.1 848.1 L390.8 851.3 L393.5 854.4 L396.1 857.5 L398.8 860.5 L401.5 863.5 L404.2 866.4 L406.8 869.3 L409.5 872.2 L412.2 874.9 L414.9 877.7 L417.5 880.4 L420.2 883.0 L422.9 885.6 L425.6 888.1 L428.2 890.6 L430.9 893.0 L433.6 895.4 L436.3 897.7 L438.9 899.9 L441.6 902.1 L444.3 904.3 L447.0 906.4 L449.6 908.4 L452.3 910.4 L455.0 912.3 L457.7 914.2 L460.3 916.0 L463.0 917.8 L465.7 919.5 L468.4 921.1 L471.0 922.7 L473.7 924.2 L476.4 925.7 L479.1 927.1 L481.7 928.4 L484.4 929.7 L487.1 931.0 L489.8 932.2 L492.4 933.3 L495.1 934.4 L497.8 935.4 L500.5 936.3 L503.1 937.2 L505.8 938.0 L508.5 938.8 L511.1 939.5 L513.8 940.2 L516.5 940.8 L519.2 941.4 L521.8 941.9 L524.5 942.3 L527.2 942.7 L529.9 943.0 L532.5 943.3 L535.2 943.5 L537.9 943.6 L540.6 943.7 L543.2 943.8 L545.9 943.7 L548.6 943.7 L551.3 943.6 L553.9 943.4 L556.6 943.1 L559.3 942.8 L562.0 942.5 L564.6 942.1 L567.3 941.6 L570.0 941.1 L572.7 940.6 L575.3 940.0 L578.0 939.3 L580.7 938.6 L583.4 937.8 L586.0 936.9 L588.7 936.1 L591.4 935.1 L594.1 934.1 L596.7 933.1 L599.4 932.0 L602.1 930.8 L604.8 929.6 L607.4 928.4 L610.1 927.1 L612.8 925.7 L615.5 924.3 L618.1 922.9 L620.8 921.4 L623.5 919.8 L626.2 918.2 L628.8 916.5 L631.5 914.8 L634.2 913.0 L636.9 911.2 L639.5 909.4 L642.2 907.5" stroke="#000" stroke-width="2.90" fill="none" stroke-linejoin="round"/>
<path d="M107.3 713.1 L110.0 703.9 L112.6 695.2 L115.3 686.9 L118.0 679.1 L120.7 671.6 L123.3 664.7 L126.0 658.1 L128.7 651.9 L131.4 646.1 L134.0 640.7 L136.7 635.7 L139.4 631.0 L142.1 626.7 L144.7 622.7 L147.4 619.0 L150.1 615.7 L152.8 612.7 L155.4 610.0 L158.1 607.6 L160.8 605.5 L163.5 603.6 L166.1 602.0 L168.8 600.7 L171.5 599.7 L174.2 598.9 L176.8 598.3 L179.5 598.0 L182.2 597.9 L184.9 598.1 L187.5 598.4 L190.2 598.9 L192.9 599.7 L195.6 600.6 L198.2 601.7 L200.9 603.0 L203.6 604.5 L206.3 606.1 L208.9 607.9 L211.6 609.9 L214.3 612.0 L217.0 614.2 L219.6 616.6 L222.3 619.1 L225.0 621.7 L227.7 624.5 L230.3 627.3 L233.0 630.3 L235.7 633.4 L238.4 636.6 L241.0 639.9 L243.7 643.2 L246.4 646.7 L249.0 650.2 L251.7 653.9 L254.4 657.6 L257.1 661.3 L259.7 665.1 L262.4 669.0 L265.1 673.0 L267.8 677.0 L270.4 681.0 L273.1 685.1 L275.8 689.2 L278.5 693.4 L281.1 697.6 L283.8 701.8 L286.5 706.1 L289.2 710.4 L291.8 714.7 L294.5 719.0 L297.2 723.4 L299.9 727.7 L302.5 732.1 L305.2 736.5 L307.9 740.8 L310.6 745.2 L313.2 749.6 L315.9 754.0 L318.6 758.4 L321.3 762.7 L323.9 767.1 L326.6 771.4 L329.3 775.7 L332.0 780.0 L334.6 784.3 L337.3 788.6 L340.0 792.9 L342.7 797.1 L345.3 801.3 L348.0 805.5 L350.7 809.6 L353.4 813.7 L356.0 817.8 L358.7 821.8 L361.4 825.8 L364.1 829.8 L366.7 833.7 L369.4 837.6 L372.1 841.5 L374.8 845.3 L377.4 849.1 L380.1 852.8 L382.8 856.5 L385.4 860.1 L388.1 863.7 L390.8 867.2 L393.5 870.7 L396.1 874.1 L398.8 877.5 L401.5 880.8 L404.2 884.1 L406.8 887.3 L409.5 890.4 L412.2 893.6 L414.9 896.6 L417.5 899.6 L420.2 902.5 L422.9 905.4 L425.6 908.2 L428.2 911.0 L430.9 913.7 L433.6 916.3 L436.3 918.9 L438.9 921.4 L441.6 923.9 L444.3 926.3 L447.0 928.6 L449.6 930.9 L452.3 933.1 L455.0 935.2 L457.7 937.3 L460.3 939.3 L463.0 941.3 L465.7 943.2 L468.4 945.0 L471.0 946.8 L473.7 948.5 L476.4 950.1 L479.1 951.7 L481.7 953.2 L484.4 954.7 L487.1 956.0 L489.8 957.4 L492.4 958.6 L495.1 959.8 L497.8 960.9 L500.5 962.0 L503.1 963.0 L505.8 963.9 L508.5 964.8 L511.1 965.6 L513.8 966.3 L516.5 967.0 L519.2 967.6 L521.8 968.2 L524.5 968.7 L527.2 969.1 L529.9 969.4 L532.5 969.7 L535.2 970.0 L537.9 970.1 L540.6 970.2 L543.2 970.3 L545.9 970.3 L548.6 970.2 L551.3 970.1 L553.9 969.9 L556.6 969.6 L559.3 969.3 L562.0 968.9 L564.6 968.4 L567.3 967.9 L570.0 967.4 L572.7 966.7 L575.3 966.0 L578.0 965.3 L580.7 964.5 L583.4 963.6 L586.0 962.7 L588.7 961.7 L591.4 960.7 L594.1 959.5 L596.7 958.4 L599.4 957.2 L602.1 955.9 L604.8 954.5 L607.4 953.1 L610.1 951.7 L612.8 950.2 L615.5 948.6 L618.1 947.0 L620.8 945.3 L623.5 943.6 L626.2 941.8 L628.8 939.9 L631.5 938.0 L634.2 936.0 L636.9 934.0 L639.5 931.9 L642.2 929.8" stroke="#000" stroke-width="2.90" fill="none" stroke-linejoin="round" stroke-dasharray="9.5 9.7"/>
<path d="M107.3 713.1 L110.0 705.2 L112.6 697.7 L115.3 690.7 L118.0 684.0 L120.7 677.7 L123.3 671.7 L126.0 666.1 L128.7 660.9 L131.4 656.0 L134.0 651.4 L136.7 647.2 L139.4 643.3 L142.1 639.6 L144.7 636.3 L147.4 633.2 L150.1 630.5 L152.8 628.0 L155.4 625.7 L158.1 623.7 L160.8 622.0 L163.5 620.5 L166.1 619.2 L168.8 618.1 L171.5 617.3 L174.2 616.7 L176.8 616.2 L179.5 616.0 L182.2 615.9 L184.9 616.1 L187.5 616.4 L190.2 616.9 L192.9 617.5 L195.6 618.3 L198.2 619.3 L200.9 620.4 L203.6 621.6 L206.3 623.0 L208.9 624.5 L211.6 626.1 L214.3 627.8 L217.0 629.7 L219.6 631.7 L222.3 633.7 L225.0 635.9 L227.7 638.1 L230.3 640.5 L233.0 642.9 L235.7 645.5 L238.4 648.0 L241.0 650.7 L243.7 653.4 L246.4 656.2 L249.0 659.1 L251.7 662.0 L254.4 665.0 L257.1 668.0 L259.7 671.1 L262.4 674.2 L265.1 677.4 L267.8 680.6 L270.4 683.8 L273.1 687.0 L275.8 690.3 L278.5 693.6 L281.1 697.0 L283.8 700.3 L286.5 703.7 L289.2 707.0 L291.8 710.4 L294.5 713.8 L297.2 717.3 L299.9 720.7 L302.5 724.1 L305.2 727.5 L307.9 730.9 L310.6 734.3 L313.2 737.7 L315.9 741.1 L318.6 744.5 L321.3 747.9 L323.9 751.3 L326.6 754.6 L329.3 757.9 L332.0 761.3 L334.6 764.6 L337.3 767.8 L340.0 771.1 L342.7 774.3 L345.3 777.5 L348.0 780.7 L350.7 783.9 L353.4 787.0 L356.0 790.1 L358.7 793.1 L361.4 796.2 L364.1 799.2 L366.7 802.1 L369.4 805.1 L372.1 808.0 L374.8 810.8 L377.4 813.6 L380.1 816.4 L382.8 819.2 L385.4 821.9 L388.1 824.6 L390.8 827.2 L393.5 829.8 L396.1 832.3 L398.8 834.8 L401.5 837.3 L404.2 839.7 L406.8 842.1 L409.5 844.4 L412.2 846.7 L414.9 848.9 L417.5 851.1 L420.2 853.3 L422.9 855.4 L425.6 857.4 L428.2 859.4 L430.9 861.4 L433.6 863.3 L436.3 865.2 L438.9 867.0 L441.6 868.8 L444.3 870.5 L447.0 872.2 L449.6 873.8 L452.3 875.4 L455.0 877.0 L457.7 878.5 L460.3 879.9 L463.0 881.3 L465.7 882.6 L468.4 883.9 L471.0 885.2 L473.7 886.4 L476.4 887.6 L479.1 888.7 L481.7 889.7 L484.4 890.7 L487.1 891.7 L489.8 892.6 L492.4 893.5 L495.1 894.3 L497.8 895.1 L500.5 895.8 L503.1 896.5 L505.8 897.1 L508.5 897.7 L511.1 898.2 L513.8 898.7 L516.5 899.2 L519.2 899.6 L521.8 899.9 L524.5 900.2 L527.2 900.5 L529.9 900.7 L532.5 900.9 L535.2 901.0 L537.9 901.1 L540.6 901.1 L543.2 901.1 L545.9 901.0 L548.6 900.9 L551.3 900.8 L553.9 900.6 L556.6 900.3 L559.3 900.1 L562.0 899.7 L564.6 899.4 L567.3 899.0 L570.0 898.5 L572.7 898.0 L575.3 897.4 L578.0 896.9 L580.7 896.2 L583.4 895.6 L586.0 894.8 L588.7 894.1 L591.4 893.3 L594.1 892.4 L596.7 891.5 L599.4 890.6 L602.1 889.6 L604.8 888.6 L607.4 887.6 L610.1 886.5 L612.8 885.3 L615.5 884.2 L618.1 883.0 L620.8 881.7 L623.5 880.4 L626.2 879.1 L628.8 877.7 L631.5 876.3 L634.2 874.8 L636.9 873.3 L639.5 871.8 L642.2 870.2" stroke="#00ff00" stroke-width="2.90" fill="none" stroke-linejoin="round"/>
<path d="M107.3 713.1 L110.0 704.3 L112.6 696.0 L115.3 688.1 L118.0 680.6 L120.7 673.6 L123.3 667.0 L126.0 660.7 L128.7 654.9 L131.4 649.4 L134.0 644.3 L136.7 639.6 L139.4 635.2 L142.1 631.2 L144.7 627.5 L147.4 624.1 L150.1 621.0 L152.8 618.2 L155.4 615.7 L158.1 613.4 L160.8 611.5 L163.5 609.8 L166.1 608.4 L168.8 607.2 L171.5 606.3 L174.2 605.6 L176.8 605.1 L179.5 604.8 L182.2 604.8 L184.9 604.9 L187.5 605.3 L190.2 605.8 L192.9 606.5 L195.6 607.4 L198.2 608.5 L200.9 609.7 L203.6 611.1 L206.3 612.6 L208.9 614.3 L211.6 616.1 L214.3 618.0 L217.0 620.1 L219.6 622.3 L222.3 624.6 L225.0 627.0 L227.7 629.5 L230.3 632.1 L233.0 634.9 L235.7 637.7 L238.4 640.6 L241.0 643.5 L243.7 646.6 L246.4 649.7 L249.0 652.9 L251.7 656.2 L254.4 659.5 L257.1 662.8 L259.7 666.3 L262.4 669.7 L265.1 673.2 L267.8 676.8 L270.4 680.4 L273.1 684.0 L275.8 687.7 L278.5 691.4 L281.1 695.1 L283.8 698.8 L286.5 702.6 L289.2 706.4 L291.8 710.1 L294.5 713.9 L297.2 717.7 L299.9 721.5 L302.5 725.3 L305.2 729.2 L307.9 733.0 L310.6 736.8 L313.2 740.6 L315.9 744.4 L318.6 748.1 L321.3 751.9 L323.9 755.6 L326.6 759.4 L329.3 763.1 L332.0 766.8 L334.6 770.5 L337.3 774.1 L340.0 777.8 L342.7 781.4 L345.3 784.9 L348.0 788.5 L350.7 792.0 L353.4 795.5 L356.0 798.9 L358.7 802.3 L361.4 805.7 L364.1 809.1 L366.7 812.4 L369.4 815.6 L372.1 818.9 L374.8 822.1 L377.4 825.2 L380.1 828.3 L382.8 831.4 L385.4 834.4 L388.1 837.4 L390.8 840.3 L393.5 843.2 L396.1 846.0 L398.8 848.8 L401.5 851.6 L404.2 854.3 L406.8 856.9 L409.5 859.5 L412.2 862.0 L414.9 864.5 L417.5 867.0 L420.2 869.4 L422.9 871.7 L425.6 874.0 L428.2 876.3 L430.9 878.5 L433.6 880.6 L436.3 882.7 L438.9 884.7 L441.6 886.7 L444.3 888.6 L447.0 890.5 L449.6 892.3 L452.3 894.1 L455.0 895.8 L457.7 897.5 L460.3 899.1 L463.0 900.6 L465.7 902.1 L468.4 903.6 L471.0 905.0 L473.7 906.3 L476.4 907.6 L479.1 908.9 L481.7 910.0 L484.4 911.2 L487.1 912.2 L489.8 913.3 L492.4 914.2 L495.1 915.2 L497.8 916.0 L500.5 916.8 L503.1 917.6 L505.8 918.3 L508.5 918.9 L511.1 919.5 L513.8 920.1 L516.5 920.6 L519.2 921.0 L521.8 921.4 L524.5 921.8 L527.2 922.1 L529.9 922.3 L532.5 922.5 L535.2 922.6 L537.9 922.7 L540.6 922.7 L543.2 922.7 L545.9 922.6 L548.6 922.5 L551.3 922.4 L553.9 922.1 L556.6 921.9 L559.3 921.6 L562.0 921.2 L564.6 920.8 L567.3 920.3 L570.0 919.8 L572.7 919.3 L575.3 918.6 L578.0 918.0 L580.7 917.3 L583.4 916.5 L586.0 915.7 L588.7 914.9 L591.4 914.0 L594.1 913.1 L596.7 912.1 L599.4 911.0 L602.1 909.9 L604.8 908.8 L607.4 907.6 L610.1 906.4 L612.8 905.2 L615.5 903.8 L618.1 902.5 L620.8 901.1 L623.5 899.6 L626.2 898.1 L628.8 896.6 L631.5 895.0 L634.2 893.4 L636.9 891.7 L639.5 890.0 L642.2 888.2" stroke="#00ff00" stroke-width="2.90" fill="none" stroke-linejoin="round" stroke-dasharray="9.5 9.7"/>
<path d="M107.3 713.1 L110.0 705.5 L112.6 698.3 L115.3 691.4 L118.0 685.0 L120.7 678.9 L123.3 673.2 L126.0 667.8 L128.7 662.8 L131.4 658.1 L134.0 653.8 L136.7 649.7 L139.4 646.0 L142.1 642.5 L144.7 639.4 L147.4 636.5 L150.1 633.8 L152.8 631.5 L155.4 629.4 L158.1 627.5 L160.8 625.9 L163.5 624.5 L166.1 623.3 L168.8 622.3 L171.5 621.5 L174.2 621.0 L176.8 620.6 L179.5 620.4 L182.2 620.4 L184.9 620.5 L187.5 620.8 L190.2 621.3 L192.9 621.9 L195.6 622.7 L198.2 623.6 L200.9 624.7 L203.6 625.9 L206.3 627.2 L208.9 628.6 L211.6 630.1 L214.3 631.8 L217.0 633.5 L219.6 635.3 L222.3 637.3 L225.0 639.3 L227.7 641.4 L230.3 643.6 L233.0 645.9 L235.7 648.2 L238.4 650.6 L241.0 653.1 L243.7 655.6 L246.4 658.2 L249.0 660.8 L251.7 663.5 L254.4 666.2 L257.1 669.0 L259.7 671.8 L262.4 674.7 L265.1 677.5 L267.8 680.5 L270.4 683.4 L273.1 686.3 L275.8 689.3 L278.5 692.3 L281.1 695.3 L283.8 698.4 L286.5 701.4 L289.2 704.5 L291.8 707.5 L294.5 710.6 L297.2 713.6 L299.9 716.7 L302.5 719.7 L305.2 722.8 L307.9 725.8 L310.6 728.9 L313.2 731.9 L315.9 734.9 L318.6 737.9 L321.3 740.9 L323.9 743.9 L326.6 746.9 L329.3 749.8 L332.0 752.7 L334.6 755.6 L337.3 758.5 L340.0 761.3 L342.7 764.2 L345.3 767.0 L348.0 769.8 L350.7 772.5 L353.4 775.2 L356.0 777.9 L358.7 780.6 L361.4 783.2 L364.1 785.8 L366.7 788.4 L369.4 790.9 L372.1 793.4 L374.8 795.8 L377.4 798.3 L380.1 800.7 L382.8 803.0 L385.4 805.3 L388.1 807.6 L390.8 809.8 L393.5 812.0 L396.1 814.2 L398.8 816.3 L401.5 818.4 L404.2 820.5 L406.8 822.5 L409.5 824.4 L412.2 826.4 L414.9 828.2 L417.5 830.1 L420.2 831.9 L422.9 833.6 L425.6 835.4 L428.2 837.0 L430.9 838.7 L433.6 840.3 L436.3 841.8 L438.9 843.3 L441.6 844.8 L444.3 846.2 L447.0 847.6 L449.6 849.0 L452.3 850.3 L455.0 851.5 L457.7 852.8 L460.3 853.9 L463.0 855.1 L465.7 856.2 L468.4 857.2 L471.0 858.2 L473.7 859.2 L476.4 860.1 L479.1 861.0 L481.7 861.9 L484.4 862.7 L487.1 863.5 L489.8 864.2 L492.4 864.9 L495.1 865.5 L497.8 866.1 L500.5 866.7 L503.1 867.2 L505.8 867.7 L508.5 868.1 L511.1 868.6 L513.8 868.9 L516.5 869.2 L519.2 869.5 L521.8 869.8 L524.5 870.0 L527.2 870.2 L529.9 870.3 L532.5 870.4 L535.2 870.5 L537.9 870.5 L540.6 870.5 L543.2 870.4 L545.9 870.3 L548.6 870.2 L551.3 870.0 L553.9 869.8 L556.6 869.6 L559.3 869.3 L562.0 869.0 L564.6 868.6 L567.3 868.3 L570.0 867.8 L572.7 867.4 L575.3 866.9 L578.0 866.4 L580.7 865.8 L583.4 865.2 L586.0 864.6 L588.7 863.9 L591.4 863.2 L594.1 862.4 L596.7 861.7 L599.4 860.9 L602.1 860.0 L604.8 859.1 L607.4 858.2 L610.1 857.3 L612.8 856.3 L615.5 855.3 L618.1 854.2 L620.8 853.2 L623.5 852.1 L626.2 850.9 L628.8 849.7 L631.5 848.5 L634.2 847.3 L636.9 846.0 L639.5 844.7 L642.2 843.4" stroke="#ff00ff" stroke-width="2.90" fill="none" stroke-linejoin="round"/>
<path d="M107.3 713.1 L110.0 704.6 L112.6 696.5 L115.3 688.9 L118.0 681.8 L120.7 675.0 L123.3 668.6 L126.0 662.6 L128.7 657.0 L131.4 651.8 L134.0 647.0 L136.7 642.4 L139.4 638.3 L142.1 634.4 L144.7 630.9 L147.4 627.7 L150.1 624.7 L152.8 622.1 L155.4 619.7 L158.1 617.7 L160.8 615.8 L163.5 614.3 L166.1 612.9 L168.8 611.9 L171.5 611.0 L174.2 610.4 L176.8 609.9 L179.5 609.7 L182.2 609.7 L184.9 609.9 L187.5 610.2 L190.2 610.8 L192.9 611.5 L195.6 612.3 L198.2 613.3 L200.9 614.5 L203.6 615.8 L206.3 617.3 L208.9 618.9 L211.6 620.6 L214.3 622.4 L217.0 624.3 L219.6 626.4 L222.3 628.6 L225.0 630.8 L227.7 633.2 L230.3 635.6 L233.0 638.1 L235.7 640.7 L238.4 643.4 L241.0 646.2 L243.7 649.0 L246.4 651.9 L249.0 654.8 L251.7 657.8 L254.4 660.8 L257.1 663.9 L259.7 667.1 L262.4 670.2 L265.1 673.5 L267.8 676.7 L270.4 680.0 L273.1 683.3 L275.8 686.6 L278.5 689.9 L281.1 693.3 L283.8 696.7 L286.5 700.1 L289.2 703.5 L291.8 706.9 L294.5 710.3 L297.2 713.7 L299.9 717.1 L302.5 720.5 L305.2 723.9 L307.9 727.3 L310.6 730.7 L313.2 734.1 L315.9 737.4 L318.6 740.8 L321.3 744.1 L323.9 747.4 L326.6 750.7 L329.3 754.0 L332.0 757.3 L334.6 760.5 L337.3 763.7 L340.0 766.9 L342.7 770.0 L345.3 773.2 L348.0 776.3 L350.7 779.3 L353.4 782.4 L356.0 785.4 L358.7 788.3 L361.4 791.3 L364.1 794.2 L366.7 797.0 L369.4 799.8 L372.1 802.6 L374.8 805.4 L377.4 808.1 L380.1 810.7 L382.8 813.3 L385.4 815.9 L388.1 818.5 L390.8 821.0 L393.5 823.4 L396.1 825.8 L398.8 828.2 L401.5 830.5 L404.2 832.8 L406.8 835.0 L409.5 837.2 L412.2 839.4 L414.9 841.5 L417.5 843.5 L420.2 845.5 L422.9 847.5 L425.6 849.4 L428.2 851.3 L430.9 853.1 L433.6 854.9 L436.3 856.6 L438.9 858.3 L441.6 860.0 L444.3 861.6 L447.0 863.1 L449.6 864.6 L452.3 866.1 L455.0 867.5 L457.7 868.8 L460.3 870.1 L463.0 871.4 L465.7 872.6 L468.4 873.8 L471.0 874.9 L473.7 876.0 L476.4 877.1 L479.1 878.0 L481.7 879.0 L484.4 879.9 L487.1 880.8 L489.8 881.6 L492.4 882.3 L495.1 883.0 L497.8 883.7 L500.5 884.4 L503.1 884.9 L505.8 885.5 L508.5 886.0 L511.1 886.4 L513.8 886.8 L516.5 887.2 L519.2 887.5 L521.8 887.8 L524.5 888.0 L527.2 888.2 L529.9 888.4 L532.5 888.5 L535.2 888.6 L537.9 888.6 L540.6 888.6 L543.2 888.5 L545.9 888.4 L548.6 888.3 L551.3 888.1 L553.9 887.8 L556.6 887.6 L559.3 887.3 L562.0 886.9 L564.6 886.5 L567.3 886.1 L570.0 885.6 L572.7 885.1 L575.3 884.6 L578.0 884.0 L580.7 883.4 L583.4 882.7 L586.0 882.0 L588.7 881.2 L591.4 880.4 L594.1 879.6 L596.7 878.8 L599.4 877.9 L602.1 876.9 L604.8 875.9 L607.4 874.9 L610.1 873.9 L612.8 872.8 L615.5 871.6 L618.1 870.5 L620.8 869.3 L623.5 868.0 L626.2 866.8 L628.8 865.5 L631.5 864.1 L634.2 862.7 L636.9 861.3 L639.5 859.8 L642.2 858.3" stroke="#ff00ff" stroke-width="2.90" fill="none" stroke-linejoin="round" stroke-dasharray="9.5 9.7"/>
<path d="M107.3 713.1 L110.0 705.7 L112.6 698.6 L115.3 692.0 L118.0 685.7 L120.7 679.8 L123.3 674.3 L126.0 669.1 L128.7 664.2 L131.4 659.7 L134.0 655.5 L136.7 651.6 L139.4 648.0 L142.1 644.7 L144.7 641.6 L147.4 638.8 L150.1 636.3 L152.8 634.1 L155.4 632.1 L158.1 630.3 L160.8 628.7 L163.5 627.4 L166.1 626.3 L168.8 625.4 L171.5 624.6 L174.2 624.1 L176.8 623.8 L179.5 623.6 L182.2 623.6 L184.9 623.8 L187.5 624.1 L190.2 624.6 L192.9 625.2 L195.6 625.9 L198.2 626.8 L200.9 627.8 L203.6 629.0 L206.3 630.2 L208.9 631.6 L211.6 633.1 L214.3 634.6 L217.0 636.3 L219.6 638.0 L222.3 639.9 L225.0 641.8 L227.7 643.8 L230.3 645.9 L233.0 648.0 L235.7 650.2 L238.4 652.5 L241.0 654.8 L243.7 657.2 L246.4 659.6 L249.0 662.1 L251.7 664.6 L254.4 667.1 L257.1 669.7 L259.7 672.4 L262.4 675.0 L265.1 677.7 L267.8 680.4 L270.4 683.1 L273.1 685.8 L275.8 688.6 L278.5 691.4 L281.1 694.2 L283.8 696.9 L286.5 699.7 L289.2 702.5 L291.8 705.3 L294.5 708.2 L297.2 711.0 L299.9 713.8 L302.5 716.5 L305.2 719.3 L307.9 722.1 L310.6 724.9 L313.2 727.6 L315.9 730.4 L318.6 733.1 L321.3 735.8 L323.9 738.5 L326.6 741.2 L329.3 743.8 L332.0 746.4 L334.6 749.0 L337.3 751.6 L340.0 754.2 L342.7 756.7 L345.3 759.2 L348.0 761.7 L350.7 764.2 L353.4 766.6 L356.0 769.0 L358.7 771.3 L361.4 773.7 L364.1 776.0 L366.7 778.2 L369.4 780.5 L372.1 782.7 L374.8 784.8 L377.4 787.0 L380.1 789.1 L382.8 791.1 L385.4 793.2 L388.1 795.2 L390.8 797.1 L393.5 799.0 L396.1 800.9 L398.8 802.8 L401.5 804.6 L404.2 806.3 L406.8 808.1 L409.5 809.8 L412.2 811.4 L414.9 813.1 L417.5 814.6 L420.2 816.2 L422.9 817.7 L425.6 819.2 L428.2 820.6 L430.9 822.0 L433.6 823.4 L436.3 824.7 L438.9 826.0 L441.6 827.2 L444.3 828.4 L447.0 829.6 L449.6 830.7 L452.3 831.8 L455.0 832.9 L457.7 833.9 L460.3 834.9 L463.0 835.8 L465.7 836.7 L468.4 837.6 L471.0 838.4 L473.7 839.2 L476.4 840.0 L479.1 840.7 L481.7 841.4 L484.4 842.1 L487.1 842.7 L489.8 843.3 L492.4 843.9 L495.1 844.4 L497.8 844.9 L500.5 845.3 L503.1 845.7 L505.8 846.1 L508.5 846.4 L511.1 846.7 L513.8 847.0 L516.5 847.3 L519.2 847.5 L521.8 847.6 L524.5 847.8 L527.2 847.9 L529.9 848.0 L532.5 848.0 L535.2 848.0 L537.9 848.0 L540.6 848.0 L543.2 847.9 L545.9 847.8 L548.6 847.6 L551.3 847.4 L553.9 847.2 L556.6 847.0 L559.3 846.7 L562.0 846.4 L564.6 846.1 L567.3 845.7 L570.0 845.3 L572.7 844.9 L575.3 844.4 L578.0 844.0 L580.7 843.4 L583.4 842.9 L586.0 842.3 L588.7 841.7 L591.4 841.1 L594.1 840.4 L596.7 839.7 L599.4 839.0 L602.1 838.3 L604.8 837.5 L607.4 836.7 L610.1 835.8 L612.8 835.0 L615.5 834.1 L618.1 833.2 L620.8 832.2 L623.5 831.2 L626.2 830.2 L628.8 829.2 L631.5 828.2 L634.2 827.1 L636.9 826.0 L639.5 824.8 L642.2 823.7" stroke="#ff0000" stroke-width="2.90" fill="none" stroke-linejoin="round"/>
<path d="M107.3 713.1 L110.0 704.8 L112.6 697.0 L115.3 689.6 L118.0 682.6 L120.7 676.0 L123.3 669.8 L126.0 664.0 L128.7 658.6 L131.4 653.6 L134.0 648.9 L136.7 644.5 L139.4 640.5 L142.1 636.8 L144.7 633.4 L147.4 630.3 L150.1 627.5 L152.8 625.0 L155.4 622.7 L158.1 620.8 L160.8 619.0 L163.5 617.5 L166.1 616.3 L168.8 615.3 L171.5 614.5 L174.2 613.9 L176.8 613.5 L179.5 613.3 L182.2 613.3 L184.9 613.5 L187.5 613.9 L190.2 614.4 L192.9 615.1 L195.6 615.9 L198.2 616.9 L200.9 618.0 L203.6 619.3 L206.3 620.7 L208.9 622.2 L211.6 623.9 L214.3 625.6 L217.0 627.5 L219.6 629.4 L222.3 631.5 L225.0 633.6 L227.7 635.8 L230.3 638.1 L233.0 640.5 L235.7 643.0 L238.4 645.5 L241.0 648.1 L243.7 650.8 L246.4 653.5 L249.0 656.2 L251.7 659.0 L254.4 661.9 L257.1 664.7 L259.7 667.7 L262.4 670.6 L265.1 673.6 L267.8 676.6 L270.4 679.7 L273.1 682.7 L275.8 685.8 L278.5 688.9 L281.1 692.0 L283.8 695.1 L286.5 698.2 L289.2 701.3 L291.8 704.5 L294.5 707.6 L297.2 710.7 L299.9 713.8 L302.5 716.9 L305.2 720.0 L307.9 723.1 L310.6 726.2 L313.2 729.3 L315.9 732.4 L318.6 735.4 L321.3 738.4 L323.9 741.4 L326.6 744.4 L329.3 747.3 L332.0 750.3 L334.6 753.2 L337.3 756.1 L340.0 758.9 L342.7 761.7 L345.3 764.5 L348.0 767.3 L350.7 770.0 L353.4 772.7 L356.0 775.4 L358.7 778.0 L361.4 780.6 L364.1 783.2 L366.7 785.7 L369.4 788.2 L372.1 790.7 L374.8 793.1 L377.4 795.5 L380.1 797.8 L382.8 800.1 L385.4 802.4 L388.1 804.6 L390.8 806.8 L393.5 808.9 L396.1 811.0 L398.8 813.1 L401.5 815.1 L404.2 817.1 L406.8 819.0 L409.5 820.9 L412.2 822.7 L414.9 824.6 L417.5 826.3 L420.2 828.0 L422.9 829.7 L425.6 831.4 L428.2 833.0 L430.9 834.5 L433.6 836.0 L436.3 837.5 L438.9 838.9 L441.6 840.3 L444.3 841.7 L447.0 843.0 L449.6 844.2 L452.3 845.5 L455.0 846.6 L457.7 847.8 L460.3 848.9 L463.0 849.9 L465.7 851.0 L468.4 851.9 L471.0 852.9 L473.7 853.8 L476.4 854.6 L479.1 855.4 L481.7 856.2 L484.4 856.9 L487.1 857.6 L489.8 858.3 L492.4 858.9 L495.1 859.5 L497.8 860.0 L500.5 860.5 L503.1 861.0 L505.8 861.4 L508.5 861.8 L511.1 862.1 L513.8 862.4 L516.5 862.7 L519.2 862.9 L521.8 863.1 L524.5 863.3 L527.2 863.4 L529.9 863.5 L532.5 863.5 L535.2 863.6 L537.9 863.5 L540.6 863.5 L543.2 863.4 L545.9 863.3 L548.6 863.1 L551.3 862.9 L553.9 862.7 L556.6 862.4 L559.3 862.1 L562.0 861.7 L564.6 861.4 L567.3 861.0 L570.0 860.5 L572.7 860.1 L575.3 859.5 L578.0 859.0 L580.7 858.4 L583.4 857.8 L586.0 857.2 L588.7 856.5 L591.4 855.8 L594.1 855.1 L596.7 854.3 L599.4 853.5 L602.1 852.7 L604.8 851.8 L607.4 850.9 L610.1 850.0 L612.8 849.0 L615.5 848.0 L618.1 847.0 L620.8 845.9 L623.5 844.8 L626.2 843.7 L628.8 842.6 L631.5 841.4 L634.2 840.2 L636.9 839.0 L639.5 837.7 L642.2 836.4" stroke="#ff0000" stroke-width="2.90" fill="none" stroke-linejoin="round" stroke-dasharray="9.5 9.7"/>
<path d="M269.40 826.90L368.94 746.54" stroke="#000" stroke-width="3.20" fill="none"/>
<path d="M377.90 739.30L369.47 754.33L368.94 746.54L361.43 744.37Z" fill="#000"/>
<rect x="348.00" y="700.80" width="154.80" height="33.90" fill="none" stroke="#1a1a1a" stroke-width="1.4"/>
<g font-family="'Liberation Sans',sans-serif" font-size="16.10" fill="#000">
</g>
<text x="358.00" y="722.30" font-family="'Liberation Sans',sans-serif" font-size="16.10" fill="#000" xml:space="preserve"><tspan font-family="'Liberation Serif',serif" font-style="italic" font-size="16.91">λ</tspan> = 10, 15, 20, 25</text>
<path d="M107.30 1008.50v-5.20M107.30 586.50v5.20M160.79 1008.50v-5.20M160.79 586.50v5.20M214.28 1008.50v-5.20M214.28 586.50v5.20M267.77 1008.50v-5.20M267.77 586.50v5.20M321.26 1008.50v-5.20M321.26 586.50v5.20M374.75 1008.50v-5.20M374.75 586.50v5.20M428.24 1008.50v-5.20M428.24 586.50v5.20M481.73 1008.50v-5.20M481.73 586.50v5.20M535.22 1008.50v-5.20M535.22 586.50v5.20M588.71 1008.50v-5.20M588.71 586.50v5.20M642.20 1008.50v-5.20M642.20 586.50v5.20M107.30 1008.50h5.20M642.20 1008.50h-5.20M107.30 966.30h5.20M642.20 966.30h-5.20M107.30 924.10h5.20M642.20 924.10h-5.20M107.30 881.90h5.20M642.20 881.90h-5.20M107.30 839.70h5.20M642.20 839.70h-5.20M107.30 797.50h5.20M642.20 797.50h-5.20M107.30 755.30h5.20M642.20 755.30h-5.20M107.30 713.10h5.20M642.20 713.10h-5.20M107.30 670.90h5.20M642.20 670.90h-5.20M107.30 628.70h5.20M642.20 628.70h-5.20M107.30 586.50h5.20M642.20 586.50h-5.20" stroke="#262626" stroke-width="1.1" fill="none"/>
<rect x="107.30" y="586.50" width="534.90" height="422.00" fill="none" stroke="#262626" stroke-width="1.15"/>
<g font-family="'Liberation Sans',sans-serif" font-size="16.10" fill="#303030">
<text x="107.30" y="1033.40" text-anchor="middle">0</text>
<text x="160.79" y="1033.40" text-anchor="middle">0.1</text>
<text x="214.28" y="1033.40" text-anchor="middle">0.2</text>
<text x="267.77" y="1033.40" text-anchor="middle">0.3</text>
<text x="321.26" y="1033.40" text-anchor="middle">0.4</text>
<text x="374.75" y="1033.40" text-anchor="middle">0.5</text>
<text x="428.24" y="1033.40" text-anchor="middle">0.6</text>
<text x="481.73" y="1033.40" text-anchor="middle">0.7</text>
<text x="535.22" y="1033.40" text-anchor="middle">0.8</text>
<text x="588.71" y="1033.40" text-anchor="middle">0.9</text>
<text x="642.20" y="1033.40" text-anchor="middle">1</text>
<text x="98.80" y="1015.10" text-anchor="end">-0.14</text>
<text x="98.80" y="972.90" text-anchor="end">-0.12</text>
<text x="98.80" y="930.70" text-anchor="end">-0.1</text>
<text x="98.80" y="888.50" text-anchor="end">-0.08</text>
<text x="98.80" y="846.30" text-anchor="end">-0.06</text>
<text x="98.80" y="804.10" text-anchor="end">-0.04</text>
<text x="98.80" y="761.90" text-anchor="end">-0.02</text>
<text x="98.80" y="719.70" text-anchor="end">0</text>
<text x="98.80" y="677.50" text-anchor="end">0.02</text>
<text x="98.80" y="635.30" text-anchor="end">0.04</text>
<text x="98.80" y="593.10" text-anchor="end">0.06</text>
</g>
<path d="M131.43 1148.50V1631.30M192.66 1148.50V1631.30M253.89 1148.50V1631.30M315.12 1148.50V1631.30M376.35 1148.50V1631.30M437.58 1148.50V1631.30M498.81 1148.50V1631.30M560.04 1148.50V1631.30M621.27 1148.50V1631.30M70.20 1470.37H682.50M70.20 1309.43H682.50" stroke="#e2e2e2" stroke-width="1" fill="none" shape-rendering="crispEdges"/>
<path d="M70.2 1631.6 L73.3 1625.4 L76.3 1619.3 L79.4 1613.2 L82.4 1607.1 L85.5 1601.1 L88.6 1595.1 L91.6 1589.2 L94.7 1583.3 L97.8 1577.5 L100.8 1571.7 L103.9 1566.0 L106.9 1560.3 L110.0 1554.7 L113.1 1549.1 L116.1 1543.5 L119.2 1538.0 L122.2 1532.6 L125.3 1527.2 L128.4 1521.8 L131.4 1516.5 L134.5 1511.2 L137.6 1506.0 L140.6 1500.8 L143.7 1495.7 L146.7 1490.6 L149.8 1485.5 L152.9 1480.5 L155.9 1475.6 L159.0 1470.7 L162.0 1465.8 L165.1 1461.0 L168.2 1456.3 L171.2 1451.5 L174.3 1446.9 L177.4 1442.2 L180.4 1437.7 L183.5 1433.1 L186.5 1428.7 L189.6 1424.2 L192.7 1419.8 L195.7 1415.5 L198.8 1411.2 L201.8 1406.9 L204.9 1402.7 L208.0 1398.5 L211.0 1394.4 L214.1 1390.4 L217.2 1386.3 L220.2 1382.3 L223.3 1378.4 L226.3 1374.5 L229.4 1370.7 L232.5 1366.9 L235.5 1363.1 L238.6 1359.4 L241.6 1355.7 L244.7 1352.1 L247.8 1348.5 L250.8 1345.0 L253.9 1341.5 L257.0 1338.0 L260.0 1334.6 L263.1 1331.3 L266.1 1327.9 L269.2 1324.7 L272.3 1321.4 L275.3 1318.2 L278.4 1315.1 L281.4 1312.0 L284.5 1308.9 L287.6 1305.9 L290.6 1302.9 L293.7 1300.0 L296.8 1297.1 L299.8 1294.2 L302.9 1291.4 L305.9 1288.6 L309.0 1285.9 L312.1 1283.2 L315.1 1280.6 L318.2 1278.0 L321.2 1275.4 L324.3 1272.9 L327.4 1270.4 L330.4 1268.0 L333.5 1265.5 L336.6 1263.2 L339.6 1260.9 L342.7 1258.6 L345.7 1256.3 L348.8 1254.1 L351.9 1251.9 L354.9 1249.8 L358.0 1247.7 L361.0 1245.7 L364.1 1243.7 L367.2 1241.7 L370.2 1239.7 L373.3 1237.8 L376.3 1236.0 L379.4 1234.2 L382.5 1232.4 L385.5 1230.6 L388.6 1228.9 L391.7 1227.2 L394.7 1225.6 L397.8 1224.0 L400.8 1222.4 L403.9 1220.9 L407.0 1219.4 L410.0 1217.9 L413.1 1216.5 L416.1 1215.1 L419.2 1213.7 L422.3 1212.4 L425.3 1211.1 L428.4 1209.9 L431.5 1208.7 L434.5 1207.5 L437.6 1206.3 L440.6 1205.2 L443.7 1204.1 L446.8 1203.1 L449.8 1202.1 L452.9 1201.1 L455.9 1200.1 L459.0 1199.2 L462.1 1198.3 L465.1 1197.5 L468.2 1196.7 L471.3 1195.9 L474.3 1195.1 L477.4 1194.4 L480.4 1193.7 L483.5 1193.0 L486.6 1192.4 L489.6 1191.8 L492.7 1191.2 L495.7 1190.6 L498.8 1190.1 L501.9 1189.6 L504.9 1189.2 L508.0 1188.8 L511.1 1188.4 L514.1 1188.0 L517.2 1187.6 L520.2 1187.3 L523.3 1187.0 L526.4 1186.8 L529.4 1186.6 L532.5 1186.3 L535.5 1186.2 L538.6 1186.0 L541.7 1185.9 L544.7 1185.8 L547.8 1185.7 L550.9 1185.7 L553.9 1185.7 L557.0 1185.7 L560.0 1185.8 L563.1 1185.8 L566.2 1185.9 L569.2 1186.1 L572.3 1186.2 L575.3 1186.4 L578.4 1186.6 L581.5 1186.8 L584.5 1187.0 L587.6 1187.3 L590.7 1187.6 L593.7 1187.9 L596.8 1188.3 L599.8 1188.7 L602.9 1189.1 L606.0 1189.5 L609.0 1189.9 L612.1 1190.4 L615.1 1190.9 L618.2 1191.4 L621.3 1191.9 L624.3 1192.5 L627.4 1193.0 L630.5 1193.6 L633.5 1194.2 L636.6 1194.9 L639.6 1195.5 L642.7 1196.2 L645.8 1196.9 L648.8 1197.6 L651.9 1198.4 L654.9 1199.1 L658.0 1199.9 L661.1 1200.7 L664.1 1201.5 L667.2 1202.4 L670.3 1203.2 L673.3 1204.1 L676.4 1205.0 L679.4 1205.9 L682.5 1206.8" stroke="#000" stroke-width="3.20" fill="none" stroke-linejoin="round"/>
<path d="M70.2 1631.5 L73.3 1625.3 L76.3 1619.2 L79.4 1613.1 L82.4 1607.0 L85.5 1601.0 L88.6 1595.0 L91.6 1589.1 L94.7 1583.2 L97.8 1577.4 L100.8 1571.6 L103.9 1565.9 L106.9 1560.2 L110.0 1554.6 L113.1 1549.0 L116.1 1543.4 L119.2 1537.9 L122.2 1532.5 L125.3 1527.0 L128.4 1521.7 L131.4 1516.4 L134.5 1511.1 L137.6 1505.9 L140.6 1500.7 L143.7 1495.6 L146.7 1490.5 L149.8 1485.4 L152.9 1480.4 L155.9 1475.5 L159.0 1470.6 L162.0 1465.7 L165.1 1460.9 L168.2 1456.2 L171.2 1451.4 L174.3 1446.8 L177.4 1442.1 L180.4 1437.6 L183.5 1433.0 L186.5 1428.5 L189.6 1424.1 L192.7 1419.7 L195.7 1415.3 L198.8 1411.0 L201.8 1406.8 L204.9 1402.6 L208.0 1398.4 L211.0 1394.3 L214.1 1390.2 L217.2 1386.1 L220.2 1382.2 L223.3 1378.2 L226.3 1374.3 L229.4 1370.5 L232.5 1366.6 L235.5 1362.9 L238.6 1359.1 L241.6 1355.5 L244.7 1351.8 L247.8 1348.2 L250.8 1344.7 L253.9 1341.2 L257.0 1337.7 L260.0 1334.3 L263.1 1330.9 L266.1 1327.6 L269.2 1324.3 L272.3 1321.1 L275.3 1317.9 L278.4 1314.7 L281.4 1311.6 L284.5 1308.5 L287.6 1305.5 L290.6 1302.5 L293.7 1299.5 L296.8 1296.6 L299.8 1293.7 L302.9 1290.9 L305.9 1288.1 L309.0 1285.4 L312.1 1282.7 L315.1 1280.0 L318.2 1277.4 L321.2 1274.8 L324.3 1272.3 L327.4 1269.8 L330.4 1267.3 L333.5 1264.9 L336.6 1262.5 L339.6 1260.2 L342.7 1257.9 L345.7 1255.6 L348.8 1253.4 L351.9 1251.2 L354.9 1249.1 L358.0 1247.0 L361.0 1244.9 L364.1 1242.9 L367.2 1240.9 L370.2 1238.9 L373.3 1237.0 L376.3 1235.1 L379.4 1233.3 L382.5 1231.5 L385.5 1229.7 L388.6 1228.0 L391.7 1226.3 L394.7 1224.6 L397.8 1223.0 L400.8 1221.4 L403.9 1219.9 L407.0 1218.4 L410.0 1216.9 L413.1 1215.5 L416.1 1214.1 L419.2 1212.7 L422.3 1211.4 L425.3 1210.1 L428.4 1208.8 L431.5 1207.6 L434.5 1206.4 L437.6 1205.2 L440.6 1204.1 L443.7 1203.0 L446.8 1201.9 L449.8 1200.9 L452.9 1199.9 L455.9 1198.9 L459.0 1198.0 L462.1 1197.1 L465.1 1196.3 L468.2 1195.4 L471.3 1194.6 L474.3 1193.9 L477.4 1193.1 L480.4 1192.4 L483.5 1191.7 L486.6 1191.1 L489.6 1190.5 L492.7 1189.9 L495.7 1189.4 L498.8 1188.8 L501.9 1188.3 L504.9 1187.9 L508.0 1187.5 L511.1 1187.0 L514.1 1186.7 L517.2 1186.3 L520.2 1186.0 L523.3 1185.7 L526.4 1185.5 L529.4 1185.2 L532.5 1185.0 L535.5 1184.9 L538.6 1184.7 L541.7 1184.6 L544.7 1184.5 L547.8 1184.4 L550.9 1184.4 L553.9 1184.4 L557.0 1184.4 L560.0 1184.4 L563.1 1184.5 L566.2 1184.6 L569.2 1184.7 L572.3 1184.9 L575.3 1185.1 L578.4 1185.3 L581.5 1185.5 L584.5 1185.7 L587.6 1186.0 L590.7 1186.3 L593.7 1186.6 L596.8 1187.0 L599.8 1187.3 L602.9 1187.7 L606.0 1188.2 L609.0 1188.6 L612.1 1189.1 L615.1 1189.5 L618.2 1190.1 L621.3 1190.6 L624.3 1191.1 L627.4 1191.7 L630.5 1192.3 L633.5 1192.9 L636.6 1193.6 L639.6 1194.2 L642.7 1194.9 L645.8 1195.6 L648.8 1196.3 L651.9 1197.1 L654.9 1197.8 L658.0 1198.6 L661.1 1199.4 L664.1 1200.2 L667.2 1201.0 L670.3 1201.9 L673.3 1202.8 L676.4 1203.6 L679.4 1204.6 L682.5 1205.5" stroke="#00ff00" stroke-width="3.20" fill="none" stroke-linejoin="round"/>
<path d="M70.2 1631.4 L73.3 1625.2 L76.3 1619.0 L79.4 1612.9 L82.4 1606.8 L85.5 1600.8 L88.6 1594.9 L91.6 1588.9 L94.7 1583.1 L97.8 1577.2 L100.8 1571.5 L103.9 1565.7 L106.9 1560.0 L110.0 1554.4 L113.1 1548.8 L116.1 1543.3 L119.2 1537.8 L122.2 1532.3 L125.3 1526.9 L128.4 1521.5 L131.4 1516.2 L134.5 1510.9 L137.6 1505.7 L140.6 1500.5 L143.7 1495.4 L146.7 1490.3 L149.8 1485.3 L152.9 1480.3 L155.9 1475.3 L159.0 1470.4 L162.0 1465.6 L165.1 1460.8 L168.2 1456.0 L171.2 1451.3 L174.3 1446.6 L177.4 1442.0 L180.4 1437.4 L183.5 1432.9 L186.5 1428.4 L189.6 1423.9 L192.7 1419.5 L195.7 1415.1 L198.8 1410.8 L201.8 1406.6 L204.9 1402.3 L208.0 1398.2 L211.0 1394.0 L214.1 1389.9 L217.2 1385.9 L220.2 1381.9 L223.3 1377.9 L226.3 1374.0 L229.4 1370.2 L232.5 1366.3 L235.5 1362.5 L238.6 1358.8 L241.6 1355.1 L244.7 1351.5 L247.8 1347.9 L250.8 1344.3 L253.9 1340.8 L257.0 1337.3 L260.0 1333.9 L263.1 1330.5 L266.1 1327.1 L269.2 1323.8 L272.3 1320.5 L275.3 1317.3 L278.4 1314.1 L281.4 1311.0 L284.5 1307.9 L287.6 1304.9 L290.6 1301.8 L293.7 1298.9 L296.8 1295.9 L299.8 1293.0 L302.9 1290.2 L305.9 1287.4 L309.0 1284.6 L312.1 1281.9 L315.1 1279.2 L318.2 1276.6 L321.2 1274.0 L324.3 1271.4 L327.4 1268.9 L330.4 1266.4 L333.5 1264.0 L336.6 1261.6 L339.6 1259.2 L342.7 1256.9 L345.7 1254.6 L348.8 1252.4 L351.9 1250.2 L354.9 1248.0 L358.0 1245.9 L361.0 1243.8 L364.1 1241.7 L367.2 1239.7 L370.2 1237.7 L373.3 1235.8 L376.3 1233.9 L379.4 1232.0 L382.5 1230.2 L385.5 1228.4 L388.6 1226.7 L391.7 1225.0 L394.7 1223.3 L397.8 1221.6 L400.8 1220.0 L403.9 1218.5 L407.0 1216.9 L410.0 1215.5 L413.1 1214.0 L416.1 1212.6 L419.2 1211.2 L422.3 1209.8 L425.3 1208.5 L428.4 1207.2 L431.5 1206.0 L434.5 1204.8 L437.6 1203.6 L440.6 1202.5 L443.7 1201.4 L446.8 1200.3 L449.8 1199.2 L452.9 1198.2 L455.9 1197.3 L459.0 1196.3 L462.1 1195.4 L465.1 1194.5 L468.2 1193.7 L471.3 1192.9 L474.3 1192.1 L477.4 1191.4 L480.4 1190.6 L483.5 1190.0 L486.6 1189.3 L489.6 1188.7 L492.7 1188.1 L495.7 1187.5 L498.8 1187.0 L501.9 1186.5 L504.9 1186.0 L508.0 1185.6 L511.1 1185.2 L514.1 1184.8 L517.2 1184.5 L520.2 1184.1 L523.3 1183.9 L526.4 1183.6 L529.4 1183.4 L532.5 1183.2 L535.5 1183.0 L538.6 1182.8 L541.7 1182.7 L544.7 1182.6 L547.8 1182.6 L550.9 1182.5 L553.9 1182.5 L557.0 1182.5 L560.0 1182.6 L563.1 1182.6 L566.2 1182.7 L569.2 1182.9 L572.3 1183.0 L575.3 1183.2 L578.4 1183.4 L581.5 1183.6 L584.5 1183.9 L587.6 1184.1 L590.7 1184.4 L593.7 1184.8 L596.8 1185.1 L599.8 1185.5 L602.9 1185.9 L606.0 1186.3 L609.0 1186.7 L612.1 1187.2 L615.1 1187.7 L618.2 1188.2 L621.3 1188.7 L624.3 1189.3 L627.4 1189.8 L630.5 1190.4 L633.5 1191.1 L636.6 1191.7 L639.6 1192.4 L642.7 1193.0 L645.8 1193.7 L648.8 1194.5 L651.9 1195.2 L654.9 1196.0 L658.0 1196.7 L661.1 1197.5 L664.1 1198.3 L667.2 1199.2 L670.3 1200.0 L673.3 1200.9 L676.4 1201.8 L679.4 1202.7 L682.5 1203.6" stroke="#ff00ff" stroke-width="3.40" fill="none" stroke-linejoin="round"/>
<path d="M70.2 1631.2 L73.3 1625.0 L76.3 1618.8 L79.4 1612.7 L82.4 1606.6 L85.5 1600.6 L88.6 1594.7 L91.6 1588.7 L94.7 1582.9 L97.8 1577.0 L100.8 1571.3 L103.9 1565.5 L106.9 1559.8 L110.0 1554.2 L113.1 1548.6 L116.1 1543.1 L119.2 1537.6 L122.2 1532.1 L125.3 1526.7 L128.4 1521.3 L131.4 1516.0 L134.5 1510.7 L137.6 1505.5 L140.6 1500.3 L143.7 1495.2 L146.7 1490.1 L149.8 1485.1 L152.9 1480.1 L155.9 1475.1 L159.0 1470.2 L162.0 1465.4 L165.1 1460.6 L168.2 1455.8 L171.2 1451.1 L174.3 1446.4 L177.4 1441.8 L180.4 1437.2 L183.5 1432.6 L186.5 1428.1 L189.6 1423.7 L192.7 1419.3 L195.7 1414.9 L198.8 1410.6 L201.8 1406.3 L204.9 1402.0 L208.0 1397.9 L211.0 1393.7 L214.1 1389.6 L217.2 1385.5 L220.2 1381.5 L223.3 1377.6 L226.3 1373.6 L229.4 1369.7 L232.5 1365.9 L235.5 1362.1 L238.6 1358.3 L241.6 1354.6 L244.7 1350.9 L247.8 1347.3 L250.8 1343.7 L253.9 1340.2 L257.0 1336.7 L260.0 1333.2 L263.1 1329.8 L266.1 1326.4 L269.2 1323.1 L272.3 1319.8 L275.3 1316.6 L278.4 1313.4 L281.4 1310.2 L284.5 1307.1 L287.6 1304.0 L290.6 1301.0 L293.7 1298.0 L296.8 1295.0 L299.8 1292.1 L302.9 1289.2 L305.9 1286.4 L309.0 1283.6 L312.1 1280.8 L315.1 1278.1 L318.2 1275.5 L321.2 1272.8 L324.3 1270.2 L327.4 1267.7 L330.4 1265.2 L333.5 1262.7 L336.6 1260.3 L339.6 1257.9 L342.7 1255.5 L345.7 1253.2 L348.8 1250.9 L351.9 1248.7 L354.9 1246.5 L358.0 1244.3 L361.0 1242.2 L364.1 1240.1 L367.2 1238.1 L370.2 1236.1 L373.3 1234.1 L376.3 1232.2 L379.4 1230.3 L382.5 1228.5 L385.5 1226.7 L388.6 1224.9 L391.7 1223.1 L394.7 1221.4 L397.8 1219.8 L400.8 1218.1 L403.9 1216.5 L407.0 1215.0 L410.0 1213.5 L413.1 1212.0 L416.1 1210.5 L419.2 1209.1 L422.3 1207.7 L425.3 1206.4 L428.4 1205.1 L431.5 1203.8 L434.5 1202.6 L437.6 1201.4 L440.6 1200.2 L443.7 1199.1 L446.8 1198.0 L449.8 1196.9 L452.9 1195.9 L455.9 1194.9 L459.0 1194.0 L462.1 1193.0 L465.1 1192.1 L468.2 1191.3 L471.3 1190.5 L474.3 1189.7 L477.4 1188.9 L480.4 1188.2 L483.5 1187.5 L486.6 1186.8 L489.6 1186.2 L492.7 1185.6 L495.7 1185.0 L498.8 1184.5 L501.9 1184.0 L504.9 1183.5 L508.0 1183.1 L511.1 1182.6 L514.1 1182.3 L517.2 1181.9 L520.2 1181.6 L523.3 1181.3 L526.4 1181.0 L529.4 1180.8 L532.5 1180.6 L535.5 1180.4 L538.6 1180.3 L541.7 1180.1 L544.7 1180.0 L547.8 1180.0 L550.9 1179.9 L553.9 1179.9 L557.0 1180.0 L560.0 1180.0 L563.1 1180.1 L566.2 1180.2 L569.2 1180.3 L572.3 1180.4 L575.3 1180.6 L578.4 1180.8 L581.5 1181.0 L584.5 1181.3 L587.6 1181.6 L590.7 1181.9 L593.7 1182.2 L596.8 1182.5 L599.8 1182.9 L602.9 1183.3 L606.0 1183.7 L609.0 1184.2 L612.1 1184.6 L615.1 1185.1 L618.2 1185.6 L621.3 1186.1 L624.3 1186.7 L627.4 1187.3 L630.5 1187.9 L633.5 1188.5 L636.6 1189.1 L639.6 1189.8 L642.7 1190.5 L645.8 1191.2 L648.8 1191.9 L651.9 1192.6 L654.9 1193.4 L658.0 1194.2 L661.1 1195.0 L664.1 1195.8 L667.2 1196.6 L670.3 1197.5 L673.3 1198.3 L676.4 1199.2 L679.4 1200.1 L682.5 1201.0" stroke="#ff0000" stroke-width="3.60" fill="none" stroke-linejoin="round"/>
<path d="M70.2 1631.0 L73.3 1624.8 L76.3 1618.6 L79.4 1612.5 L82.4 1606.5 L85.5 1600.4 L88.6 1594.5 L91.6 1588.5 L94.7 1582.7 L97.8 1576.8 L100.8 1571.1 L103.9 1565.3 L106.9 1559.6 L110.0 1554.0 L113.1 1548.4 L116.1 1542.9 L119.2 1537.4 L122.2 1531.9 L125.3 1526.5 L128.4 1521.1 L131.4 1515.8 L134.5 1510.5 L137.6 1505.3 L140.6 1500.1 L143.7 1495.0 L146.7 1489.9 L149.8 1484.9 L152.9 1479.9 L155.9 1474.9 L159.0 1470.0 L162.0 1465.2 L165.1 1460.4 L168.2 1455.6 L171.2 1450.9 L174.3 1446.2 L177.4 1441.6 L180.4 1437.0 L183.5 1432.4 L186.5 1427.9 L189.6 1423.4 L192.7 1419.0 L195.7 1414.6 L198.8 1410.3 L201.8 1406.0 L204.9 1401.8 L208.0 1397.6 L211.0 1393.4 L214.1 1389.3 L217.2 1385.2 L220.2 1381.2 L223.3 1377.2 L226.3 1373.2 L229.4 1369.3 L232.5 1365.5 L235.5 1361.7 L238.6 1357.9 L241.6 1354.2 L244.7 1350.5 L247.8 1346.8 L250.8 1343.2 L253.9 1339.7 L257.0 1336.1 L260.0 1332.7 L263.1 1329.2 L266.1 1325.8 L269.2 1322.5 L272.3 1319.2 L275.3 1315.9 L278.4 1312.7 L281.4 1309.5 L284.5 1306.3 L287.6 1303.2 L290.6 1300.1 L293.7 1297.1 L296.8 1294.1 L299.8 1291.2 L302.9 1288.3 L305.9 1285.4 L309.0 1282.6 L312.1 1279.8 L315.1 1277.1 L318.2 1274.4 L321.2 1271.7 L324.3 1269.1 L327.4 1266.5 L330.4 1264.0 L333.5 1261.5 L336.6 1259.0 L339.6 1256.6 L342.7 1254.2 L345.7 1251.9 L348.8 1249.6 L351.9 1247.3 L354.9 1245.1 L358.0 1242.9 L361.0 1240.8 L364.1 1238.7 L367.2 1236.6 L370.2 1234.6 L373.3 1232.6 L376.3 1230.6 L379.4 1228.7 L382.5 1226.8 L385.5 1225.0 L388.6 1223.2 L391.7 1221.4 L394.7 1219.7 L397.8 1218.0 L400.8 1216.3 L403.9 1214.7 L407.0 1213.2 L410.0 1211.6 L413.1 1210.1 L416.1 1208.6 L419.2 1207.2 L422.3 1205.8 L425.3 1204.4 L428.4 1203.1 L431.5 1201.8 L434.5 1200.6 L437.6 1199.3 L440.6 1198.1 L443.7 1197.0 L446.8 1195.9 L449.8 1194.8 L452.9 1193.8 L455.9 1192.7 L459.0 1191.8 L462.1 1190.8 L465.1 1189.9 L468.2 1189.0 L471.3 1188.2 L474.3 1187.4 L477.4 1186.6 L480.4 1185.9 L483.5 1185.2 L486.6 1184.5 L489.6 1183.8 L492.7 1183.2 L495.7 1182.7 L498.8 1182.1 L501.9 1181.6 L504.9 1181.1 L508.0 1180.7 L511.1 1180.2 L514.1 1179.9 L517.2 1179.5 L520.2 1179.2 L523.3 1178.9 L526.4 1178.6 L529.4 1178.4 L532.5 1178.2 L535.5 1178.0 L538.6 1177.8 L541.7 1177.7 L544.7 1177.6 L547.8 1177.6 L550.9 1177.5 L553.9 1177.5 L557.0 1177.5 L560.0 1177.6 L563.1 1177.7 L566.2 1177.8 L569.2 1177.9 L572.3 1178.0 L575.3 1178.2 L578.4 1178.4 L581.5 1178.6 L584.5 1178.9 L587.6 1179.1 L590.7 1179.4 L593.7 1179.8 L596.8 1180.1 L599.8 1180.5 L602.9 1180.9 L606.0 1181.3 L609.0 1181.7 L612.1 1182.2 L615.1 1182.7 L618.2 1183.2 L621.3 1183.7 L624.3 1184.3 L627.4 1184.9 L630.5 1185.5 L633.5 1186.1 L636.6 1186.7 L639.6 1187.4 L642.7 1188.0 L645.8 1188.7 L648.8 1189.5 L651.9 1190.2 L654.9 1191.0 L658.0 1191.7 L661.1 1192.5 L664.1 1193.4 L667.2 1194.2 L670.3 1195.0 L673.3 1195.9 L676.4 1196.8 L679.4 1197.7 L682.5 1198.6" stroke="#ff0000" stroke-width="3.60" fill="none" stroke-linejoin="round"/>
<path d="M70.2 1629.9 L73.3 1626.6 L76.3 1623.4 L79.4 1620.3 L82.4 1617.2 L85.5 1614.1 L88.6 1611.1 L91.6 1608.1 L94.7 1605.1 L97.8 1602.2 L100.8 1599.4 L103.9 1596.5 L106.9 1593.7 L110.0 1591.0 L113.1 1588.3 L116.1 1585.6 L119.2 1582.9 L122.2 1580.3 L125.3 1577.8 L128.4 1575.2 L131.4 1572.7 L134.5 1570.3 L137.6 1567.9 L140.6 1565.5 L143.7 1563.1 L146.7 1560.8 L149.8 1558.5 L152.9 1556.2 L155.9 1554.0 L159.0 1551.8 L162.0 1549.7 L165.1 1547.5 L168.2 1545.4 L171.2 1543.4 L174.3 1541.3 L177.4 1539.3 L180.4 1537.4 L183.5 1535.4 L186.5 1533.5 L189.6 1531.6 L192.7 1529.8 L195.7 1528.0 L198.8 1526.2 L201.8 1524.4 L204.9 1522.7 L208.0 1521.0 L211.0 1519.3 L214.1 1517.6 L217.2 1516.0 L220.2 1514.4 L223.3 1512.8 L226.3 1511.3 L229.4 1509.8 L232.5 1508.3 L235.5 1506.8 L238.6 1505.4 L241.6 1503.9 L244.7 1502.5 L247.8 1501.2 L250.8 1499.8 L253.9 1498.5 L257.0 1497.2 L260.0 1495.9 L263.1 1494.7 L266.1 1493.5 L269.2 1492.3 L272.3 1491.1 L275.3 1489.9 L278.4 1488.8 L281.4 1487.7 L284.5 1486.6 L287.6 1485.5 L290.6 1484.5 L293.7 1483.5 L296.8 1482.5 L299.8 1481.5 L302.9 1480.5 L305.9 1479.6 L309.0 1478.6 L312.1 1477.7 L315.1 1476.9 L318.2 1476.0 L321.2 1475.1 L324.3 1474.3 L327.4 1473.5 L330.4 1472.7 L333.5 1472.0 L336.6 1471.2 L339.6 1470.5 L342.7 1469.8 L345.7 1469.1 L348.8 1468.4 L351.9 1467.7 L354.9 1467.1 L358.0 1466.5 L361.0 1465.8 L364.1 1465.3 L367.2 1464.7 L370.2 1464.1 L373.3 1463.6 L376.3 1463.0 L379.4 1462.5 L382.5 1462.0 L385.5 1461.6 L388.6 1461.1 L391.7 1460.7 L394.7 1460.2 L397.8 1459.8 L400.8 1459.4 L403.9 1459.0 L407.0 1458.6 L410.0 1458.3 L413.1 1457.9 L416.1 1457.6 L419.2 1457.3 L422.3 1457.0 L425.3 1456.7 L428.4 1456.5 L431.5 1456.2 L434.5 1455.9 L437.6 1455.7 L440.6 1455.5 L443.7 1455.3 L446.8 1455.1 L449.8 1454.9 L452.9 1454.8 L455.9 1454.6 L459.0 1454.5 L462.1 1454.4 L465.1 1454.2 L468.2 1454.1 L471.3 1454.1 L474.3 1454.0 L477.4 1453.9 L480.4 1453.9 L483.5 1453.8 L486.6 1453.8 L489.6 1453.8 L492.7 1453.8 L495.7 1453.8 L498.8 1453.8 L501.9 1453.9 L504.9 1453.9 L508.0 1454.0 L511.1 1454.0 L514.1 1454.1 L517.2 1454.2 L520.2 1454.3 L523.3 1454.4 L526.4 1454.6 L529.4 1454.7 L532.5 1454.8 L535.5 1455.0 L538.6 1455.2 L541.7 1455.4 L544.7 1455.6 L547.8 1455.8 L550.9 1456.0 L553.9 1456.2 L557.0 1456.4 L560.0 1456.7 L563.1 1457.0 L566.2 1457.2 L569.2 1457.5 L572.3 1457.8 L575.3 1458.1 L578.4 1458.4 L581.5 1458.8 L584.5 1459.1 L587.6 1459.4 L590.7 1459.8 L593.7 1460.2 L596.8 1460.6 L599.8 1460.9 L602.9 1461.4 L606.0 1461.8 L609.0 1462.2 L612.1 1462.6 L615.1 1463.1 L618.2 1463.5 L621.3 1464.0 L624.3 1464.5 L627.4 1465.0 L630.5 1465.5 L633.5 1466.0 L636.6 1466.5 L639.6 1467.1 L642.7 1467.6 L645.8 1468.2 L648.8 1468.7 L651.9 1469.3 L654.9 1469.9 L658.0 1470.5 L661.1 1471.1 L664.1 1471.8 L667.2 1472.4 L670.3 1473.1 L673.3 1473.7 L676.4 1474.4 L679.4 1475.1 L682.5 1475.8" stroke="#000" stroke-width="3.40" fill="none" stroke-linejoin="round" stroke-dasharray="12 10.2"/>
<path d="M70.2 1630.3 L73.3 1627.1 L76.3 1623.9 L79.4 1620.8 L82.4 1617.7 L85.5 1614.6 L88.6 1611.6 L91.6 1608.6 L94.7 1605.6 L97.8 1602.7 L100.8 1599.8 L103.9 1597.0 L106.9 1594.2 L110.0 1591.5 L113.1 1588.8 L116.1 1586.1 L119.2 1583.4 L122.2 1580.8 L125.3 1578.3 L128.4 1575.7 L131.4 1573.2 L134.5 1570.8 L137.6 1568.3 L140.6 1565.9 L143.7 1563.6 L146.7 1561.3 L149.8 1559.0 L152.9 1556.7 L155.9 1554.5 L159.0 1552.3 L162.0 1550.1 L165.1 1548.0 L168.2 1545.9 L171.2 1543.9 L174.3 1541.8 L177.4 1539.8 L180.4 1537.8 L183.5 1535.9 L186.5 1534.0 L189.6 1532.1 L192.7 1530.3 L195.7 1528.4 L198.8 1526.6 L201.8 1524.9 L204.9 1523.1 L208.0 1521.4 L211.0 1519.8 L214.1 1518.1 L217.2 1516.5 L220.2 1514.9 L223.3 1513.3 L226.3 1511.8 L229.4 1510.2 L232.5 1508.7 L235.5 1507.3 L238.6 1505.8 L241.6 1504.4 L244.7 1503.0 L247.8 1501.7 L250.8 1500.3 L253.9 1499.0 L257.0 1497.7 L260.0 1496.4 L263.1 1495.2 L266.1 1494.0 L269.2 1492.8 L272.3 1491.6 L275.3 1490.4 L278.4 1489.3 L281.4 1488.2 L284.5 1487.1 L287.6 1486.0 L290.6 1485.0 L293.7 1483.9 L296.8 1482.9 L299.8 1482.0 L302.9 1481.0 L305.9 1480.0 L309.0 1479.1 L312.1 1478.2 L315.1 1477.3 L318.2 1476.5 L321.2 1475.6 L324.3 1474.8 L327.4 1474.0 L330.4 1473.2 L333.5 1472.4 L336.6 1471.7 L339.6 1471.0 L342.7 1470.2 L345.7 1469.5 L348.8 1468.9 L351.9 1468.2 L354.9 1467.6 L358.0 1466.9 L361.0 1466.3 L364.1 1465.7 L367.2 1465.2 L370.2 1464.6 L373.3 1464.1 L376.3 1463.5 L379.4 1463.0 L382.5 1462.5 L385.5 1462.0 L388.6 1461.6 L391.7 1461.1 L394.7 1460.7 L397.8 1460.3 L400.8 1459.9 L403.9 1459.5 L407.0 1459.1 L410.0 1458.8 L413.1 1458.4 L416.1 1458.1 L419.2 1457.8 L422.3 1457.5 L425.3 1457.2 L428.4 1456.9 L431.5 1456.7 L434.5 1456.4 L437.6 1456.2 L440.6 1456.0 L443.7 1455.8 L446.8 1455.6 L449.8 1455.4 L452.9 1455.3 L455.9 1455.1 L459.0 1455.0 L462.1 1454.8 L465.1 1454.7 L468.2 1454.6 L471.3 1454.5 L474.3 1454.5 L477.4 1454.4 L480.4 1454.4 L483.5 1454.3 L486.6 1454.3 L489.6 1454.3 L492.7 1454.3 L495.7 1454.3 L498.8 1454.3 L501.9 1454.3 L504.9 1454.4 L508.0 1454.4 L511.1 1454.5 L514.1 1454.6 L517.2 1454.7 L520.2 1454.8 L523.3 1454.9 L526.4 1455.0 L529.4 1455.2 L532.5 1455.3 L535.5 1455.5 L538.6 1455.7 L541.7 1455.8 L544.7 1456.0 L547.8 1456.2 L550.9 1456.5 L553.9 1456.7 L557.0 1456.9 L560.0 1457.2 L563.1 1457.4 L566.2 1457.7 L569.2 1458.0 L572.3 1458.3 L575.3 1458.6 L578.4 1458.9 L581.5 1459.2 L584.5 1459.6 L587.6 1459.9 L590.7 1460.3 L593.7 1460.7 L596.8 1461.0 L599.8 1461.4 L602.9 1461.8 L606.0 1462.3 L609.0 1462.7 L612.1 1463.1 L615.1 1463.6 L618.2 1464.0 L621.3 1464.5 L624.3 1465.0 L627.4 1465.5 L630.5 1466.0 L633.5 1466.5 L636.6 1467.0 L639.6 1467.5 L642.7 1468.1 L645.8 1468.6 L648.8 1469.2 L651.9 1469.8 L654.9 1470.4 L658.0 1471.0 L661.1 1471.6 L664.1 1472.2 L667.2 1472.9 L670.3 1473.5 L673.3 1474.2 L676.4 1474.9 L679.4 1475.6 L682.5 1476.3" stroke="#00ff00" stroke-width="3.40" fill="none" stroke-linejoin="round" stroke-dasharray="12 10.2"/>
<path d="M70.2 1630.8 L73.3 1627.6 L76.3 1624.4 L79.4 1621.2 L82.4 1618.1 L85.5 1615.1 L88.6 1612.0 L91.6 1609.1 L94.7 1606.1 L97.8 1603.2 L100.8 1600.3 L103.9 1597.5 L106.9 1594.7 L110.0 1592.0 L113.1 1589.2 L116.1 1586.6 L119.2 1583.9 L122.2 1581.3 L125.3 1578.7 L128.4 1576.2 L131.4 1573.7 L134.5 1571.2 L137.6 1568.8 L140.6 1566.4 L143.7 1564.1 L146.7 1561.7 L149.8 1559.5 L152.9 1557.2 L155.9 1555.0 L159.0 1552.8 L162.0 1550.6 L165.1 1548.5 L168.2 1546.4 L171.2 1544.3 L174.3 1542.3 L177.4 1540.3 L180.4 1538.3 L183.5 1536.4 L186.5 1534.5 L189.6 1532.6 L192.7 1530.7 L195.7 1528.9 L198.8 1527.1 L201.8 1525.4 L204.9 1523.6 L208.0 1521.9 L211.0 1520.2 L214.1 1518.6 L217.2 1517.0 L220.2 1515.4 L223.3 1513.8 L226.3 1512.2 L229.4 1510.7 L232.5 1509.2 L235.5 1507.8 L238.6 1506.3 L241.6 1504.9 L244.7 1503.5 L247.8 1502.1 L250.8 1500.8 L253.9 1499.5 L257.0 1498.2 L260.0 1496.9 L263.1 1495.7 L266.1 1494.4 L269.2 1493.2 L272.3 1492.1 L275.3 1490.9 L278.4 1489.8 L281.4 1488.7 L284.5 1487.6 L287.6 1486.5 L290.6 1485.5 L293.7 1484.4 L296.8 1483.4 L299.8 1482.4 L302.9 1481.5 L305.9 1480.5 L309.0 1479.6 L312.1 1478.7 L315.1 1477.8 L318.2 1477.0 L321.2 1476.1 L324.3 1475.3 L327.4 1474.5 L330.4 1473.7 L333.5 1472.9 L336.6 1472.2 L339.6 1471.4 L342.7 1470.7 L345.7 1470.0 L348.8 1469.4 L351.9 1468.7 L354.9 1468.0 L358.0 1467.4 L361.0 1466.8 L364.1 1466.2 L367.2 1465.6 L370.2 1465.1 L373.3 1464.5 L376.3 1464.0 L379.4 1463.5 L382.5 1463.0 L385.5 1462.5 L388.6 1462.1 L391.7 1461.6 L394.7 1461.2 L397.8 1460.8 L400.8 1460.4 L403.9 1460.0 L407.0 1459.6 L410.0 1459.3 L413.1 1458.9 L416.1 1458.6 L419.2 1458.3 L422.3 1458.0 L425.3 1457.7 L428.4 1457.4 L431.5 1457.2 L434.5 1456.9 L437.6 1456.7 L440.6 1456.5 L443.7 1456.3 L446.8 1456.1 L449.8 1455.9 L452.9 1455.7 L455.9 1455.6 L459.0 1455.4 L462.1 1455.3 L465.1 1455.2 L468.2 1455.1 L471.3 1455.0 L474.3 1454.9 L477.4 1454.9 L480.4 1454.8 L483.5 1454.8 L486.6 1454.8 L489.6 1454.8 L492.7 1454.8 L495.7 1454.8 L498.8 1454.8 L501.9 1454.8 L504.9 1454.9 L508.0 1454.9 L511.1 1455.0 L514.1 1455.1 L517.2 1455.2 L520.2 1455.3 L523.3 1455.4 L526.4 1455.5 L529.4 1455.7 L532.5 1455.8 L535.5 1456.0 L538.6 1456.1 L541.7 1456.3 L544.7 1456.5 L547.8 1456.7 L550.9 1456.9 L553.9 1457.2 L557.0 1457.4 L560.0 1457.7 L563.1 1457.9 L566.2 1458.2 L569.2 1458.5 L572.3 1458.8 L575.3 1459.1 L578.4 1459.4 L581.5 1459.7 L584.5 1460.1 L587.6 1460.4 L590.7 1460.8 L593.7 1461.1 L596.8 1461.5 L599.8 1461.9 L602.9 1462.3 L606.0 1462.7 L609.0 1463.2 L612.1 1463.6 L615.1 1464.0 L618.2 1464.5 L621.3 1465.0 L624.3 1465.5 L627.4 1465.9 L630.5 1466.4 L633.5 1467.0 L636.6 1467.5 L639.6 1468.0 L642.7 1468.6 L645.8 1469.1 L648.8 1469.7 L651.9 1470.3 L654.9 1470.9 L658.0 1471.5 L661.1 1472.1 L664.1 1472.7 L667.2 1473.4 L670.3 1474.0 L673.3 1474.7 L676.4 1475.4 L679.4 1476.0 L682.5 1476.7" stroke="#ff00ff" stroke-width="3.40" fill="none" stroke-linejoin="round" stroke-dasharray="12 10.2"/>
<path d="M70.2 1631.6 L73.3 1628.4 L76.3 1625.2 L79.4 1622.0 L82.4 1618.9 L85.5 1615.9 L88.6 1612.8 L91.6 1609.9 L94.7 1606.9 L97.8 1604.0 L100.8 1601.1 L103.9 1598.3 L106.9 1595.5 L110.0 1592.8 L113.1 1590.0 L116.1 1587.4 L119.2 1584.7 L122.2 1582.1 L125.3 1579.5 L128.4 1577.0 L131.4 1574.5 L134.5 1572.1 L137.6 1569.6 L140.6 1567.2 L143.7 1564.9 L146.7 1562.5 L149.8 1560.3 L152.9 1558.0 L155.9 1555.8 L159.0 1553.6 L162.0 1551.4 L165.1 1549.3 L168.2 1547.2 L171.2 1545.1 L174.3 1543.1 L177.4 1541.1 L180.4 1539.1 L183.5 1537.2 L186.5 1535.3 L189.6 1533.4 L192.7 1531.6 L195.7 1529.7 L198.8 1527.9 L201.8 1526.2 L204.9 1524.4 L208.0 1522.7 L211.0 1521.0 L214.1 1519.4 L217.2 1517.8 L220.2 1516.2 L223.3 1514.6 L226.3 1513.1 L229.4 1511.5 L232.5 1510.0 L235.5 1508.6 L238.6 1507.1 L241.6 1505.7 L244.7 1504.3 L247.8 1502.9 L250.8 1501.6 L253.9 1500.3 L257.0 1499.0 L260.0 1497.7 L263.1 1496.5 L266.1 1495.2 L269.2 1494.0 L272.3 1492.9 L275.3 1491.7 L278.4 1490.6 L281.4 1489.5 L284.5 1488.4 L287.6 1487.3 L290.6 1486.3 L293.7 1485.2 L296.8 1484.2 L299.8 1483.2 L302.9 1482.3 L305.9 1481.3 L309.0 1480.4 L312.1 1479.5 L315.1 1478.6 L318.2 1477.8 L321.2 1476.9 L324.3 1476.1 L327.4 1475.3 L330.4 1474.5 L333.5 1473.7 L336.6 1473.0 L339.6 1472.2 L342.7 1471.5 L345.7 1470.8 L348.8 1470.2 L351.9 1469.5 L354.9 1468.9 L358.0 1468.2 L361.0 1467.6 L364.1 1467.0 L367.2 1466.4 L370.2 1465.9 L373.3 1465.3 L376.3 1464.8 L379.4 1464.3 L382.5 1463.8 L385.5 1463.3 L388.6 1462.9 L391.7 1462.4 L394.7 1462.0 L397.8 1461.6 L400.8 1461.2 L403.9 1460.8 L407.0 1460.4 L410.0 1460.1 L413.1 1459.7 L416.1 1459.4 L419.2 1459.1 L422.3 1458.8 L425.3 1458.5 L428.4 1458.2 L431.5 1458.0 L434.5 1457.7 L437.6 1457.5 L440.6 1457.3 L443.7 1457.1 L446.8 1456.9 L449.8 1456.7 L452.9 1456.5 L455.9 1456.4 L459.0 1456.3 L462.1 1456.1 L465.1 1456.0 L468.2 1455.9 L471.3 1455.8 L474.3 1455.8 L477.4 1455.7 L480.4 1455.6 L483.5 1455.6 L486.6 1455.6 L489.6 1455.6 L492.7 1455.6 L495.7 1455.6 L498.8 1455.6 L501.9 1455.6 L504.9 1455.7 L508.0 1455.7 L511.1 1455.8 L514.1 1455.9 L517.2 1456.0 L520.2 1456.1 L523.3 1456.2 L526.4 1456.3 L529.4 1456.5 L532.5 1456.6 L535.5 1456.8 L538.6 1456.9 L541.7 1457.1 L544.7 1457.3 L547.8 1457.5 L550.9 1457.8 L553.9 1458.0 L557.0 1458.2 L560.0 1458.5 L563.1 1458.7 L566.2 1459.0 L569.2 1459.3 L572.3 1459.6 L575.3 1459.9 L578.4 1460.2 L581.5 1460.5 L584.5 1460.9 L587.6 1461.2 L590.7 1461.6 L593.7 1461.9 L596.8 1462.3 L599.8 1462.7 L602.9 1463.1 L606.0 1463.5 L609.0 1464.0 L612.1 1464.4 L615.1 1464.8 L618.2 1465.3 L621.3 1465.8 L624.3 1466.3 L627.4 1466.7 L630.5 1467.3 L633.5 1467.8 L636.6 1468.3 L639.6 1468.8 L642.7 1469.4 L645.8 1469.9 L648.8 1470.5 L651.9 1471.1 L654.9 1471.7 L658.0 1472.3 L661.1 1472.9 L664.1 1473.5 L667.2 1474.2 L670.3 1474.8 L673.3 1475.5 L676.4 1476.2 L679.4 1476.9 L682.5 1477.6" stroke="#ff0000" stroke-width="4.00" fill="none" stroke-linejoin="round" stroke-dasharray="12 10.2"/>
<path d="M267.90 1555.20L186.13 1346.53" stroke="#000" stroke-width="3.70" fill="none"/>
<path d="M181.30 1334.20L194.81 1348.67L186.13 1346.53L181.22 1354.00Z" fill="#000"/>
<rect x="82.00" y="1296.50" width="164.90" height="32.70" fill="none" stroke="#1a1a1a" stroke-width="1.4"/>
<g font-family="'Liberation Sans',sans-serif" font-size="18.40" fill="#000">
</g>
<text x="91.80" y="1319.90" font-family="'Liberation Sans',sans-serif" font-size="18.40" fill="#000" xml:space="preserve"><tspan font-family="'Liberation Serif',serif" font-style="italic" font-size="19.32">λ</tspan> = 10, 15, 20, 25</text>
<rect x="337.00" y="1307.50" width="313.00" height="107.80" fill="none" stroke="#1a1a1a" stroke-width="1.4"/>
<g font-family="'Liberation Sans',sans-serif" font-size="18.20" fill="#000">
<text x="347.00" y="1332.20" xml:space="preserve">-Solid line = Graphene-Ag/H2O</text>
<text x="382.00" y="1355.80" xml:space="preserve">(Cylindrical+Platelet)</text>
<text x="347.00" y="1379.60" xml:space="preserve">-Dashed line = Graphene-CuO/H2O</text>
<text x="382.00" y="1403.60" xml:space="preserve">(Cylindrical+Spherical)</text>
</g>
<path d="M70.20 1631.30v-5.20M70.20 1148.50v5.20M131.43 1631.30v-5.20M131.43 1148.50v5.20M192.66 1631.30v-5.20M192.66 1148.50v5.20M253.89 1631.30v-5.20M253.89 1148.50v5.20M315.12 1631.30v-5.20M315.12 1148.50v5.20M376.35 1631.30v-5.20M376.35 1148.50v5.20M437.58 1631.30v-5.20M437.58 1148.50v5.20M498.81 1631.30v-5.20M498.81 1148.50v5.20M560.04 1631.30v-5.20M560.04 1148.50v5.20M621.27 1631.30v-5.20M621.27 1148.50v5.20M682.50 1631.30v-5.20M682.50 1148.50v5.20M70.20 1631.30h5.20M682.50 1631.30h-5.20M70.20 1470.37h5.20M682.50 1470.37h-5.20M70.20 1309.43h5.20M682.50 1309.43h-5.20M70.20 1148.50h5.20M682.50 1148.50h-5.20" stroke="#262626" stroke-width="1.1" fill="none"/>
<rect x="70.20" y="1148.50" width="612.30" height="482.80" fill="none" stroke="#262626" stroke-width="1.15"/>
<g font-family="'Liberation Sans',sans-serif" font-size="18.40" fill="#303030">
<text x="70.20" y="1659.62" text-anchor="middle">0</text>
<text x="131.43" y="1659.62" text-anchor="middle">0.1</text>
<text x="192.66" y="1659.62" text-anchor="middle">0.2</text>
<text x="253.89" y="1659.62" text-anchor="middle">0.3</text>
<text x="315.12" y="1659.62" text-anchor="middle">0.4</text>
<text x="376.35" y="1659.62" text-anchor="middle">0.5</text>
<text x="437.58" y="1659.62" text-anchor="middle">0.6</text>
<text x="498.81" y="1659.62" text-anchor="middle">0.7</text>
<text x="560.04" y="1659.62" text-anchor="middle">0.8</text>
<text x="621.27" y="1659.62" text-anchor="middle">0.9</text>
<text x="682.50" y="1659.62" text-anchor="middle">1</text>
<text x="61.70" y="1638.72" text-anchor="end">0</text>
<text x="61.70" y="1477.79" text-anchor="end">0.5</text>
<text x="61.70" y="1316.86" text-anchor="end">1</text>
<text x="61.70" y="1155.92" text-anchor="end">1.5</text>
</g>
<rect x="129.00" y="882.70" width="269.30" height="93.60" fill="none" stroke="#1a1a1a" stroke-width="1.4"/>
<g font-family="'Liberation Sans',sans-serif" font-size="16.00" fill="#000">
<text x="138.00" y="905.30" xml:space="preserve">Solid line  = Graphene-Ag/H2O</text>
<text x="164.30" y="925.90" xml:space="preserve">(Cylindrical+Platelet)</text>
<text x="138.00" y="946.30" xml:space="preserve">Dashed line = Graphene-CuO/H2O</text>
<text x="164.30" y="967.30" xml:space="preserve">(Cylibdrical+Spherical)</text>
</g>
<text transform="translate(17.60 228.70) rotate(-90)" text-anchor="middle" font-family="'Liberation Serif',serif" font-style="italic" font-size="23.50" fill="#262626" xml:space="preserve">f (η)</text>
<text transform="translate(54.00 800.30) rotate(-90)" text-anchor="middle" font-family="'Liberation Serif',serif" font-style="italic" font-size="21.20" fill="#262626" xml:space="preserve">g (η)</text>
<text transform="translate(24.70 1393.30) rotate(-90)" text-anchor="middle" font-family="'Liberation Serif',serif" font-style="italic" font-size="24.20" fill="#262626" xml:space="preserve">θ (η)</text>
<text x="354.00" y="503.00" text-anchor="middle" font-family="'Liberation Serif',serif" font-style="italic" font-size="21.00" fill="#262626">η</text>
<text x="375.00" y="1058.00" text-anchor="middle" font-family="'Liberation Serif',serif" font-style="italic" font-size="19.80" fill="#262626">η</text>
<text x="376.00" y="1687.30" text-anchor="middle" font-family="'Liberation Serif',serif" font-style="italic" font-size="22.60" fill="#262626">η</text>
<text x="220.30" y="543.50" font-family="'Liberation Serif',serif" font-weight="bold" font-size="29" fill="#111">(a)</text>
<text x="262.20" y="543.50" font-family="'Liberation Serif',serif" font-size="23.8" fill="#111" xml:space="preserve">Effect of</text>
<text x="355.50" y="543.50" font-family="'Liberation Serif',serif" font-style="italic" font-size="23.8" fill="#111">λ</text>
<text x="377.30" y="543.50" font-family="'Liberation Serif',serif" font-size="23.8" fill="#111" xml:space="preserve">on</text>
<text x="413.50" y="543.50" font-family="'Liberation Serif',serif" font-style="italic" font-size="23.8" fill="#111">f</text>
<text x="430.00" y="545.00" font-family="'Liberation Serif',serif" font-size="27" fill="#111">(</text>
<text x="441.50" y="543.50" font-family="'Liberation Serif',serif" font-style="italic" font-size="23.8" fill="#111">η</text>
<text x="455.00" y="545.00" font-family="'Liberation Serif',serif" font-size="27" fill="#111">)</text>
<text x="242.50" y="1098.90" font-family="'Liberation Serif',serif" font-weight="bold" font-size="29" fill="#111">(b)</text>
<text x="285.50" y="1098.90" font-family="'Liberation Serif',serif" font-size="23.8" fill="#111" xml:space="preserve">Effect of</text>
<text x="379.60" y="1098.90" font-family="'Liberation Serif',serif" font-style="italic" font-size="23.8" fill="#111">λ</text>
<text x="401.50" y="1098.90" font-family="'Liberation Serif',serif" font-size="23.8" fill="#111" xml:space="preserve">on</text>
<text x="434.30" y="1098.90" font-family="'Liberation Serif',serif" font-style="italic" font-size="23.8" fill="#111">g</text>
<text x="451.70" y="1100.40" font-family="'Liberation Serif',serif" font-size="27" fill="#111">(</text>
<text x="463.00" y="1098.90" font-family="'Liberation Serif',serif" font-style="italic" font-size="23.8" fill="#111">η</text>
<text x="477.50" y="1100.40" font-family="'Liberation Serif',serif" font-size="27" fill="#111">)</text>
<text x="252.60" y="1729.00" font-family="'Liberation Serif',serif" font-weight="bold" font-size="29" fill="#111">(c)</text>
<text x="290.00" y="1729.00" font-family="'Liberation Serif',serif" font-size="23.8" fill="#111" xml:space="preserve">Effect of</text>
<text x="384.00" y="1729.00" font-family="'Liberation Serif',serif" font-style="italic" font-size="23.8" fill="#111">λ</text>
<text x="406.00" y="1729.00" font-family="'Liberation Serif',serif" font-size="23.8" fill="#111" xml:space="preserve">on</text>
<text x="437.50" y="1729.00" font-family="'Liberation Serif',serif" font-style="italic" font-size="23.8" fill="#111">θ</text>
<text x="451.70" y="1730.50" font-family="'Liberation Serif',serif" font-size="27" fill="#111">(</text>
<text x="463.00" y="1729.00" font-family="'Liberation Serif',serif" font-style="italic" font-size="23.8" fill="#111">η</text>
<text x="478.50" y="1730.50" font-family="'Liberation Serif',serif" font-size="27" fill="#111">)</text>
</svg>
</body></html>
